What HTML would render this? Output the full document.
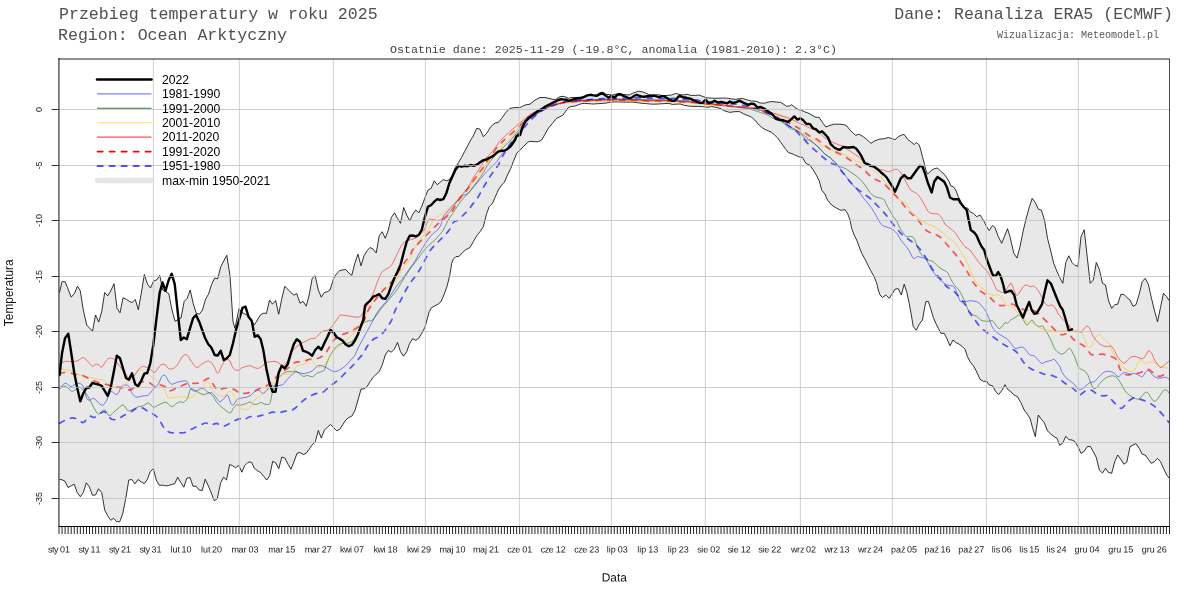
<!DOCTYPE html>
<html><head><meta charset="utf-8"><title>Przebieg temperatury</title>
<style>
html,body{margin:0;padding:0;background:#fff;}
body{width:1200px;height:600px;overflow:hidden;position:relative;font-family:"Liberation Sans",sans-serif;}
svg{position:absolute;left:0;top:0;display:block;will-change:transform;}
.mono{font-family:"Liberation Mono",monospace;}
.sans{font-family:"Liberation Sans",sans-serif;}
</style></head><body>
<svg width="1200" height="600" viewBox="0 0 1200 600">
<rect x="0" y="0" width="1200" height="600" fill="#ffffff"/>
<defs><clipPath id="cp"><rect x="59" y="59" width="1110.5" height="467.5"/></clipPath></defs>

<g class="mono" fill="#222">
<text x="59" y="18.9" font-size="16.6" fill="#505050">Przebieg temperatury w roku 2025</text>
<text x="58" y="39.8" font-size="16.6" fill="#505050">Region: Ocean Arktyczny</text>
<text x="1173" y="18.9" font-size="16.6" text-anchor="end" fill="#505050">Dane: Reanaliza ERA5 (ECMWF)</text>
<text x="1159" y="37.5" font-size="10" text-anchor="end" fill="#555">Wizualizacja: Meteomodel.pl</text>
<text x="613.5" y="53" font-size="11.65" text-anchor="middle" fill="#444">Ostatnie dane: 2025-11-29 (-19.8°C, anomalia (1981-2010): 2.3°C)</text>
</g>
<g clip-path="url(#cp)">
<path d="M59.5 292.5 L62.0 281.7 L65.0 281.7 L67.5 287.5 L71.2 297.2 L74.5 293.3 L77.5 286.2 L80.3 290.8 L83.3 310.0 L86.7 325.0 L92.5 331.3 L95.5 315.0 L98.7 322.0 L101.7 311.7 L104.7 292.5 L107.8 295.8 L110.8 290.8 L114.0 283.7 L117.0 308.3 L120.0 312.8 L123.0 297.8 L126.2 299.2 L129.2 301.3 L132.2 302.5 L135.3 299.5 L138.3 309.7 L141.3 293.3 L144.3 274.5 L147.5 284.2 L150.5 288.0 L153.7 280.8 L156.7 280.0 L159.7 275.3 L162.8 290.0 L165.8 291.7 L168.8 293.7 L172.0 310.0 L175.0 321.2 L178.0 319.7 L181.0 318.0 L184.2 301.3 L187.2 298.3 L190.2 290.0 L193.3 303.8 L196.3 313.3 L199.3 314.2 L202.5 310.0 L205.5 299.2 L208.5 294.2 L211.7 284.2 L214.7 278.0 L217.7 278.8 L220.8 266.7 L223.8 260.8 L226.8 255.3 L230.0 275.8 L233.0 321.7 L235.0 328.3 L236.0 323.3 L239.0 308.7 L242.0 312.5 L245.2 314.2 L248.2 315.8 L251.2 320.0 L254.3 325.0 L257.3 320.0 L260.3 315.0 L263.3 313.3 L266.5 313.3 L269.5 300.0 L272.5 304.2 L275.7 300.5 L278.7 314.2 L281.7 299.2 L284.8 286.3 L287.8 289.2 L290.8 292.5 L293.8 295.0 L296.8 293.7 L300.0 303.3 L303.0 301.3 L306.2 306.2 L309.2 295.0 L312.2 278.3 L315.2 275.8 L318.3 290.0 L321.3 297.2 L324.3 292.5 L327.3 291.7 L330.0 290.0 L333.7 278.3 L336.7 273.7 L339.7 270.5 L342.7 270.0 L345.8 269.5 L348.8 273.0 L351.8 275.3 L354.8 263.3 L358.0 254.2 L361.0 265.8 L364.0 255.8 L367.0 250.8 L370.0 247.5 L373.2 249.2 L376.2 253.0 L379.2 235.8 L382.2 231.7 L385.3 238.3 L388.3 230.0 L391.3 217.5 L394.5 212.8 L397.5 218.3 L400.5 223.3 L403.7 207.5 L406.7 215.0 L409.7 220.8 L412.8 214.2 L415.8 210.0 L418.8 212.8 L422.0 205.8 L425.0 197.5 L428.0 190.0 L431.2 188.3 L434.2 180.8 L437.2 184.7 L440.2 182.2 L443.3 179.5 L446.3 180.8 L449.3 179.7 L452.3 175.0 L455.3 167.5 L458.5 162.5 L461.5 157.5 L464.5 151.7 L467.7 145.8 L470.7 140.0 L473.3 135.8 L476.7 128.3 L480.0 129.2 L483.3 136.7 L486.7 133.3 L490.8 126.7 L495.0 123.0 L498.3 122.5 L501.7 118.3 L505.8 112.5 L510.0 108.3 L515.0 107.5 L520.0 107.5 L525.0 105.0 L530.0 104.2 L535.0 100.0 L540.0 97.5 L545.0 97.5 L550.0 98.7 L555.0 99.7 L560.0 96.7 L563.0 96.3 L566.2 97.2 L568.4 98.3 L571.7 97.5 L576.0 97.5 L580.3 97.2 L583.6 96.7 L586.8 95.6 L590.1 94.8 L593.3 95.4 L596.6 95.0 L599.3 92.9 L602.0 92.1 L604.2 92.9 L606.3 94.5 L609.6 94.5 L612.8 95.0 L616.1 94.0 L619.3 93.6 L622.6 94.3 L625.8 94.7 L629.1 95.0 L632.3 93.4 L635.6 92.1 L638.8 91.2 L642.1 91.8 L645.3 92.9 L648.6 94.5 L651.8 94.8 L655.1 95.0 L658.3 94.8 L661.6 95.4 L664.8 95.6 L668.1 95.4 L671.3 95.0 L673.5 94.3 L675.7 93.4 L677.8 94.0 L680.0 94.5 L683.2 95.0 L687.0 94.3 L690.8 95.4 L695.2 95.4 L699.0 95.0 L702.8 96.5 L707.1 97.8 L711.4 98.1 L715.8 98.3 L721.2 98.1 L726.6 98.1 L730.9 98.8 L735.2 99.4 L739.6 98.6 L742.8 98.6 L747.2 99.9 L751.5 101.0 L755.8 101.2 L760.2 103.0 L764.5 103.2 L768.3 102.1 L772.1 101.5 L776.4 102.1 L780.8 102.4 L784.0 104.5 L786.7 106.4 L789.4 105.9 L791.6 104.8 L794.8 107.3 L798.1 109.5 L801.3 110.2 L804.6 111.8 L807.8 112.9 L810.0 114.0 L815.0 117.0 L819.2 117.5 L822.5 122.5 L825.8 127.0 L830.0 125.3 L834.2 124.2 L839.2 124.2 L843.3 124.5 L846.7 125.8 L850.0 130.0 L853.3 133.3 L855.8 135.3 L859.2 134.2 L863.3 136.7 L867.5 140.0 L870.8 143.3 L875.0 140.8 L879.2 139.2 L884.2 138.7 L888.3 137.5 L892.5 138.7 L895.0 139.7 L898.3 136.7 L901.7 135.0 L904.2 134.5 L907.5 139.2 L910.8 141.7 L914.2 144.5 L916.7 142.5 L919.2 145.0 L920.8 150.0 L922.5 156.7 L924.2 163.3 L925.8 170.0 L927.5 174.2 L930.8 170.8 L934.2 168.7 L937.5 168.0 L940.8 171.3 L944.2 174.2 L946.7 177.5 L949.2 181.7 L950.8 185.8 L953.3 186.7 L955.8 190.0 L958.3 196.7 L960.0 200.0 L963.3 207.5 L967.5 208.0 L970.0 211.7 L973.3 213.3 L976.7 216.7 L980.0 215.0 L983.3 220.0 L986.7 226.7 L989.2 230.5 L992.5 225.5 L995.0 227.5 L998.3 236.7 L1001.7 243.3 L1005.0 235.0 L1007.5 228.7 L1010.0 236.7 L1013.8 253.3 L1017.0 258.0 L1020.0 246.7 L1023.0 231.7 L1026.2 218.3 L1029.2 207.5 L1032.2 198.3 L1035.3 202.5 L1038.3 209.2 L1041.3 210.0 L1044.5 220.0 L1047.5 238.3 L1050.5 250.0 L1053.7 263.3 L1056.7 270.8 L1059.7 277.5 L1062.8 283.3 L1065.8 262.5 L1068.8 255.8 L1072.0 262.5 L1075.0 265.5 L1078.0 266.3 L1081.0 236.7 L1084.2 229.7 L1087.2 256.7 L1090.2 283.3 L1093.3 280.0 L1096.3 262.5 L1099.3 269.2 L1102.5 283.3 L1105.5 285.0 L1108.5 300.8 L1111.7 308.3 L1114.7 304.7 L1117.7 304.2 L1120.8 294.5 L1123.8 294.2 L1126.8 297.5 L1130.0 300.0 L1133.0 306.3 L1136.0 304.7 L1139.2 294.2 L1142.2 281.7 L1145.2 278.3 L1148.3 284.2 L1151.3 297.5 L1154.3 310.0 L1157.5 321.7 L1160.5 307.5 L1163.5 293.3 L1166.7 296.7 L1169.0 300.5 L1169.0 478.0 L1166.7 475.0 L1163.5 468.3 L1160.5 461.7 L1157.5 458.3 L1154.3 461.7 L1151.3 463.3 L1148.3 459.2 L1145.2 455.0 L1142.2 454.2 L1139.2 448.3 L1136.0 443.7 L1133.0 445.0 L1130.0 446.7 L1126.8 462.2 L1123.8 464.2 L1120.8 459.2 L1117.7 455.0 L1114.7 461.7 L1111.7 473.3 L1108.5 472.5 L1105.5 468.3 L1102.5 473.0 L1099.3 470.0 L1096.3 457.5 L1093.3 451.7 L1090.2 446.3 L1087.2 446.7 L1084.2 451.3 L1081.0 453.3 L1078.0 446.7 L1075.0 441.7 L1072.0 440.0 L1068.8 439.7 L1065.8 436.3 L1062.8 443.0 L1059.7 445.3 L1057.0 438.3 L1054.2 436.7 L1050.8 434.2 L1047.5 430.8 L1044.2 422.5 L1041.3 419.2 L1038.3 415.0 L1035.3 436.7 L1032.5 427.5 L1030.0 418.3 L1026.7 413.3 L1024.2 410.0 L1020.8 402.5 L1017.5 396.7 L1014.2 395.0 L1010.8 391.7 L1007.5 389.2 L1005.0 384.7 L1001.7 390.8 L998.7 394.5 L995.8 391.7 L992.5 385.8 L989.2 385.0 L986.7 381.3 L983.3 381.3 L980.0 379.2 L975.8 370.0 L973.3 365.8 L970.0 361.7 L967.5 356.7 L965.0 349.2 L962.5 346.7 L959.2 344.2 L955.8 342.5 L953.0 340.0 L950.0 345.8 L946.7 338.3 L944.2 333.3 L940.8 333.3 L938.3 328.3 L935.8 323.3 L933.3 317.5 L930.8 309.2 L928.3 301.3 L925.8 301.7 L924.2 310.0 L922.5 320.0 L919.2 324.2 L916.3 330.3 L913.3 326.7 L911.3 315.0 L909.2 303.3 L906.7 291.7 L904.2 284.2 L901.3 295.0 L898.3 288.7 L895.0 289.2 L892.5 293.3 L889.2 298.3 L885.8 295.0 L882.5 297.5 L880.0 295.0 L878.3 290.0 L876.7 283.3 L874.2 276.7 L870.8 270.8 L868.3 265.8 L865.0 259.2 L861.7 253.3 L859.2 246.7 L856.7 240.0 L854.2 235.0 L851.7 228.3 L850.0 220.0 L847.5 213.3 L845.0 209.7 L840.8 210.3 L836.7 208.3 L831.7 205.0 L827.5 200.0 L825.0 194.2 L821.7 190.0 L819.2 180.8 L816.7 175.8 L813.3 170.0 L810.0 165.3 L805.8 163.3 L802.5 157.5 L798.3 156.7 L793.3 154.2 L788.3 152.5 L785.0 148.3 L779.1 140.0 L777.5 137.8 L774.2 134.6 L771.0 131.9 L767.8 130.8 L764.5 129.2 L761.2 127.0 L758.0 123.8 L754.8 120.0 L751.5 117.2 L748.2 115.6 L743.9 114.0 L739.6 111.6 L735.2 111.6 L729.8 112.4 L724.4 110.8 L720.1 108.4 L715.8 107.3 L711.4 106.6 L707.1 107.3 L702.8 106.7 L698.4 106.4 L693.0 106.4 L688.7 106.1 L684.3 105.3 L680.0 104.0 L675.7 104.2 L672.4 104.5 L670.2 103.7 L667.0 103.5 L662.7 103.7 L658.3 104.0 L654.0 104.2 L649.7 104.0 L645.3 103.5 L641.0 103.2 L636.7 102.6 L632.3 102.1 L628.0 102.1 L623.7 102.1 L619.3 101.9 L615.0 101.9 L610.7 102.1 L606.3 103.0 L602.0 103.4 L597.7 103.7 L593.3 104.0 L589.0 103.7 L584.7 103.4 L581.4 103.7 L578.2 104.8 L574.9 106.1 L571.7 106.4 L568.4 107.5 L565.7 111.3 L563.0 115.1 L560.0 116.7 L556.7 118.3 L552.5 123.3 L548.3 128.3 L545.0 134.2 L541.7 140.0 L538.3 141.7 L535.0 141.7 L530.0 141.3 L527.5 142.5 L523.3 146.7 L520.0 150.0 L516.7 153.3 L513.3 161.7 L510.8 168.3 L507.5 175.0 L504.2 182.5 L501.7 185.0 L498.3 190.0 L495.0 197.5 L492.5 203.3 L489.2 206.7 L486.7 213.3 L485.0 220.0 L483.3 226.7 L480.0 231.7 L476.7 235.8 L473.3 241.7 L470.0 247.5 L465.8 249.7 L462.5 252.5 L459.2 256.3 L455.8 256.7 L453.3 259.2 L451.7 263.3 L450.0 274.2 L447.2 285.8 L444.2 294.2 L441.0 301.7 L438.0 304.2 L435.0 305.8 L431.7 307.5 L429.2 311.7 L427.0 320.0 L424.8 327.5 L421.8 333.3 L418.7 338.3 L415.7 340.3 L412.7 338.7 L409.7 343.3 L406.7 351.7 L403.5 356.2 L400.5 351.7 L397.5 342.5 L394.3 349.2 L391.3 352.2 L388.3 350.5 L385.3 355.0 L382.2 365.0 L379.2 371.7 L376.2 374.2 L373.0 377.5 L370.0 381.7 L367.0 386.7 L364.0 388.8 L361.0 389.2 L358.0 400.0 L354.8 410.8 L351.8 416.2 L348.8 417.5 L345.8 420.0 L342.7 424.7 L339.7 429.5 L336.7 430.8 L333.7 427.8 L330.5 424.5 L327.5 427.0 L324.5 430.0 L321.3 438.0 L318.3 430.5 L315.3 441.7 L312.3 444.7 L309.2 449.2 L306.2 453.3 L303.2 454.5 L300.0 452.5 L297.0 453.3 L294.0 461.7 L291.0 469.2 L288.0 464.2 L284.8 458.0 L281.8 457.0 L278.8 468.7 L275.8 463.0 L272.7 461.3 L269.7 475.8 L266.7 480.0 L263.7 476.3 L260.5 472.5 L257.5 470.8 L254.2 468.0 L251.7 462.5 L250.0 462.0 L247.8 462.5 L244.8 465.5 L241.8 472.2 L238.7 465.3 L235.7 467.8 L232.7 465.8 L229.7 464.5 L226.5 480.0 L223.5 477.2 L220.5 483.3 L217.3 498.7 L214.3 500.8 L211.3 493.0 L208.3 485.8 L205.2 479.2 L202.2 490.5 L199.2 490.0 L196.0 486.2 L193.0 486.3 L190.0 477.5 L186.8 478.3 L183.8 487.2 L180.8 482.5 L177.7 477.2 L174.7 483.7 L171.7 484.5 L168.5 485.5 L165.5 485.8 L162.5 485.2 L159.3 485.3 L156.3 480.0 L153.3 468.7 L150.2 471.7 L147.2 479.7 L144.2 483.7 L141.0 481.7 L138.0 479.5 L135.0 483.8 L131.8 479.5 L128.8 480.0 L125.8 498.3 L122.8 513.3 L119.8 521.7 L116.7 521.7 L113.7 518.3 L110.7 520.3 L107.7 515.8 L104.7 510.0 L101.7 492.5 L98.5 488.8 L95.5 495.0 L92.5 495.3 L89.3 486.7 L86.3 482.8 L83.3 492.5 L80.3 496.7 L77.2 492.5 L74.2 484.2 L71.2 485.8 L68.0 487.5 L65.0 481.3 L62.0 479.7 L59.5 479.5Z" fill="#e8e8e8" stroke="none"/>
<path d="M59.5 292.5 L62.0 281.7 L65.0 281.7 L67.5 287.5 L71.2 297.2 L74.5 293.3 L77.5 286.2 L80.3 290.8 L83.3 310.0 L86.7 325.0 L92.5 331.3 L95.5 315.0 L98.7 322.0 L101.7 311.7 L104.7 292.5 L107.8 295.8 L110.8 290.8 L114.0 283.7 L117.0 308.3 L120.0 312.8 L123.0 297.8 L126.2 299.2 L129.2 301.3 L132.2 302.5 L135.3 299.5 L138.3 309.7 L141.3 293.3 L144.3 274.5 L147.5 284.2 L150.5 288.0 L153.7 280.8 L156.7 280.0 L159.7 275.3 L162.8 290.0 L165.8 291.7 L168.8 293.7 L172.0 310.0 L175.0 321.2 L178.0 319.7 L181.0 318.0 L184.2 301.3 L187.2 298.3 L190.2 290.0 L193.3 303.8 L196.3 313.3 L199.3 314.2 L202.5 310.0 L205.5 299.2 L208.5 294.2 L211.7 284.2 L214.7 278.0 L217.7 278.8 L220.8 266.7 L223.8 260.8 L226.8 255.3 L230.0 275.8 L233.0 321.7 L235.0 328.3 L236.0 323.3 L239.0 308.7 L242.0 312.5 L245.2 314.2 L248.2 315.8 L251.2 320.0 L254.3 325.0 L257.3 320.0 L260.3 315.0 L263.3 313.3 L266.5 313.3 L269.5 300.0 L272.5 304.2 L275.7 300.5 L278.7 314.2 L281.7 299.2 L284.8 286.3 L287.8 289.2 L290.8 292.5 L293.8 295.0 L296.8 293.7 L300.0 303.3 L303.0 301.3 L306.2 306.2 L309.2 295.0 L312.2 278.3 L315.2 275.8 L318.3 290.0 L321.3 297.2 L324.3 292.5 L327.3 291.7 L330.0 290.0 L333.7 278.3 L336.7 273.7 L339.7 270.5 L342.7 270.0 L345.8 269.5 L348.8 273.0 L351.8 275.3 L354.8 263.3 L358.0 254.2 L361.0 265.8 L364.0 255.8 L367.0 250.8 L370.0 247.5 L373.2 249.2 L376.2 253.0 L379.2 235.8 L382.2 231.7 L385.3 238.3 L388.3 230.0 L391.3 217.5 L394.5 212.8 L397.5 218.3 L400.5 223.3 L403.7 207.5 L406.7 215.0 L409.7 220.8 L412.8 214.2 L415.8 210.0 L418.8 212.8 L422.0 205.8 L425.0 197.5 L428.0 190.0 L431.2 188.3 L434.2 180.8 L437.2 184.7 L440.2 182.2 L443.3 179.5 L446.3 180.8 L449.3 179.7 L452.3 175.0 L455.3 167.5 L458.5 162.5 L461.5 157.5 L464.5 151.7 L467.7 145.8 L470.7 140.0 L473.3 135.8 L476.7 128.3 L480.0 129.2 L483.3 136.7 L486.7 133.3 L490.8 126.7 L495.0 123.0 L498.3 122.5 L501.7 118.3 L505.8 112.5 L510.0 108.3 L515.0 107.5 L520.0 107.5 L525.0 105.0 L530.0 104.2 L535.0 100.0 L540.0 97.5 L545.0 97.5 L550.0 98.7 L555.0 99.7 L560.0 96.7 L563.0 96.3 L566.2 97.2 L568.4 98.3 L571.7 97.5 L576.0 97.5 L580.3 97.2 L583.6 96.7 L586.8 95.6 L590.1 94.8 L593.3 95.4 L596.6 95.0 L599.3 92.9 L602.0 92.1 L604.2 92.9 L606.3 94.5 L609.6 94.5 L612.8 95.0 L616.1 94.0 L619.3 93.6 L622.6 94.3 L625.8 94.7 L629.1 95.0 L632.3 93.4 L635.6 92.1 L638.8 91.2 L642.1 91.8 L645.3 92.9 L648.6 94.5 L651.8 94.8 L655.1 95.0 L658.3 94.8 L661.6 95.4 L664.8 95.6 L668.1 95.4 L671.3 95.0 L673.5 94.3 L675.7 93.4 L677.8 94.0 L680.0 94.5 L683.2 95.0 L687.0 94.3 L690.8 95.4 L695.2 95.4 L699.0 95.0 L702.8 96.5 L707.1 97.8 L711.4 98.1 L715.8 98.3 L721.2 98.1 L726.6 98.1 L730.9 98.8 L735.2 99.4 L739.6 98.6 L742.8 98.6 L747.2 99.9 L751.5 101.0 L755.8 101.2 L760.2 103.0 L764.5 103.2 L768.3 102.1 L772.1 101.5 L776.4 102.1 L780.8 102.4 L784.0 104.5 L786.7 106.4 L789.4 105.9 L791.6 104.8 L794.8 107.3 L798.1 109.5 L801.3 110.2 L804.6 111.8 L807.8 112.9 L810.0 114.0 L815.0 117.0 L819.2 117.5 L822.5 122.5 L825.8 127.0 L830.0 125.3 L834.2 124.2 L839.2 124.2 L843.3 124.5 L846.7 125.8 L850.0 130.0 L853.3 133.3 L855.8 135.3 L859.2 134.2 L863.3 136.7 L867.5 140.0 L870.8 143.3 L875.0 140.8 L879.2 139.2 L884.2 138.7 L888.3 137.5 L892.5 138.7 L895.0 139.7 L898.3 136.7 L901.7 135.0 L904.2 134.5 L907.5 139.2 L910.8 141.7 L914.2 144.5 L916.7 142.5 L919.2 145.0 L920.8 150.0 L922.5 156.7 L924.2 163.3 L925.8 170.0 L927.5 174.2 L930.8 170.8 L934.2 168.7 L937.5 168.0 L940.8 171.3 L944.2 174.2 L946.7 177.5 L949.2 181.7 L950.8 185.8 L953.3 186.7 L955.8 190.0 L958.3 196.7 L960.0 200.0 L963.3 207.5 L967.5 208.0 L970.0 211.7 L973.3 213.3 L976.7 216.7 L980.0 215.0 L983.3 220.0 L986.7 226.7 L989.2 230.5 L992.5 225.5 L995.0 227.5 L998.3 236.7 L1001.7 243.3 L1005.0 235.0 L1007.5 228.7 L1010.0 236.7 L1013.8 253.3 L1017.0 258.0 L1020.0 246.7 L1023.0 231.7 L1026.2 218.3 L1029.2 207.5 L1032.2 198.3 L1035.3 202.5 L1038.3 209.2 L1041.3 210.0 L1044.5 220.0 L1047.5 238.3 L1050.5 250.0 L1053.7 263.3 L1056.7 270.8 L1059.7 277.5 L1062.8 283.3 L1065.8 262.5 L1068.8 255.8 L1072.0 262.5 L1075.0 265.5 L1078.0 266.3 L1081.0 236.7 L1084.2 229.7 L1087.2 256.7 L1090.2 283.3 L1093.3 280.0 L1096.3 262.5 L1099.3 269.2 L1102.5 283.3 L1105.5 285.0 L1108.5 300.8 L1111.7 308.3 L1114.7 304.7 L1117.7 304.2 L1120.8 294.5 L1123.8 294.2 L1126.8 297.5 L1130.0 300.0 L1133.0 306.3 L1136.0 304.7 L1139.2 294.2 L1142.2 281.7 L1145.2 278.3 L1148.3 284.2 L1151.3 297.5 L1154.3 310.0 L1157.5 321.7 L1160.5 307.5 L1163.5 293.3 L1166.7 296.7 L1169.0 300.5" fill="none" stroke="#000" stroke-width="0.8" stroke-linejoin="round"/>
<path d="M59.5 479.5 L62.0 479.7 L65.0 481.3 L68.0 487.5 L71.2 485.8 L74.2 484.2 L77.2 492.5 L80.3 496.7 L83.3 492.5 L86.3 482.8 L89.3 486.7 L92.5 495.3 L95.5 495.0 L98.5 488.8 L101.7 492.5 L104.7 510.0 L107.7 515.8 L110.7 520.3 L113.7 518.3 L116.7 521.7 L119.8 521.7 L122.8 513.3 L125.8 498.3 L128.8 480.0 L131.8 479.5 L135.0 483.8 L138.0 479.5 L141.0 481.7 L144.2 483.7 L147.2 479.7 L150.2 471.7 L153.3 468.7 L156.3 480.0 L159.3 485.3 L162.5 485.2 L165.5 485.8 L168.5 485.5 L171.7 484.5 L174.7 483.7 L177.7 477.2 L180.8 482.5 L183.8 487.2 L186.8 478.3 L190.0 477.5 L193.0 486.3 L196.0 486.2 L199.2 490.0 L202.2 490.5 L205.2 479.2 L208.3 485.8 L211.3 493.0 L214.3 500.8 L217.3 498.7 L220.5 483.3 L223.5 477.2 L226.5 480.0 L229.7 464.5 L232.7 465.8 L235.7 467.8 L238.7 465.3 L241.8 472.2 L244.8 465.5 L247.8 462.5 L250.0 462.0 L251.7 462.5 L254.2 468.0 L257.5 470.8 L260.5 472.5 L263.7 476.3 L266.7 480.0 L269.7 475.8 L272.7 461.3 L275.8 463.0 L278.8 468.7 L281.8 457.0 L284.8 458.0 L288.0 464.2 L291.0 469.2 L294.0 461.7 L297.0 453.3 L300.0 452.5 L303.2 454.5 L306.2 453.3 L309.2 449.2 L312.3 444.7 L315.3 441.7 L318.3 430.5 L321.3 438.0 L324.5 430.0 L327.5 427.0 L330.5 424.5 L333.7 427.8 L336.7 430.8 L339.7 429.5 L342.7 424.7 L345.8 420.0 L348.8 417.5 L351.8 416.2 L354.8 410.8 L358.0 400.0 L361.0 389.2 L364.0 388.8 L367.0 386.7 L370.0 381.7 L373.0 377.5 L376.2 374.2 L379.2 371.7 L382.2 365.0 L385.3 355.0 L388.3 350.5 L391.3 352.2 L394.3 349.2 L397.5 342.5 L400.5 351.7 L403.5 356.2 L406.7 351.7 L409.7 343.3 L412.7 338.7 L415.7 340.3 L418.7 338.3 L421.8 333.3 L424.8 327.5 L427.0 320.0 L429.2 311.7 L431.7 307.5 L435.0 305.8 L438.0 304.2 L441.0 301.7 L444.2 294.2 L447.2 285.8 L450.0 274.2 L451.7 263.3 L453.3 259.2 L455.8 256.7 L459.2 256.3 L462.5 252.5 L465.8 249.7 L470.0 247.5 L473.3 241.7 L476.7 235.8 L480.0 231.7 L483.3 226.7 L485.0 220.0 L486.7 213.3 L489.2 206.7 L492.5 203.3 L495.0 197.5 L498.3 190.0 L501.7 185.0 L504.2 182.5 L507.5 175.0 L510.8 168.3 L513.3 161.7 L516.7 153.3 L520.0 150.0 L523.3 146.7 L527.5 142.5 L530.0 141.3 L535.0 141.7 L538.3 141.7 L541.7 140.0 L545.0 134.2 L548.3 128.3 L552.5 123.3 L556.7 118.3 L560.0 116.7 L563.0 115.1 L565.7 111.3 L568.4 107.5 L571.7 106.4 L574.9 106.1 L578.2 104.8 L581.4 103.7 L584.7 103.4 L589.0 103.7 L593.3 104.0 L597.7 103.7 L602.0 103.4 L606.3 103.0 L610.7 102.1 L615.0 101.9 L619.3 101.9 L623.7 102.1 L628.0 102.1 L632.3 102.1 L636.7 102.6 L641.0 103.2 L645.3 103.5 L649.7 104.0 L654.0 104.2 L658.3 104.0 L662.7 103.7 L667.0 103.5 L670.2 103.7 L672.4 104.5 L675.7 104.2 L680.0 104.0 L684.3 105.3 L688.7 106.1 L693.0 106.4 L698.4 106.4 L702.8 106.7 L707.1 107.3 L711.4 106.6 L715.8 107.3 L720.1 108.4 L724.4 110.8 L729.8 112.4 L735.2 111.6 L739.6 111.6 L743.9 114.0 L748.2 115.6 L751.5 117.2 L754.8 120.0 L758.0 123.8 L761.2 127.0 L764.5 129.2 L767.8 130.8 L771.0 131.9 L774.2 134.6 L777.5 137.8 L779.1 140.0 L785.0 148.3 L788.3 152.5 L793.3 154.2 L798.3 156.7 L802.5 157.5 L805.8 163.3 L810.0 165.3 L813.3 170.0 L816.7 175.8 L819.2 180.8 L821.7 190.0 L825.0 194.2 L827.5 200.0 L831.7 205.0 L836.7 208.3 L840.8 210.3 L845.0 209.7 L847.5 213.3 L850.0 220.0 L851.7 228.3 L854.2 235.0 L856.7 240.0 L859.2 246.7 L861.7 253.3 L865.0 259.2 L868.3 265.8 L870.8 270.8 L874.2 276.7 L876.7 283.3 L878.3 290.0 L880.0 295.0 L882.5 297.5 L885.8 295.0 L889.2 298.3 L892.5 293.3 L895.0 289.2 L898.3 288.7 L901.3 295.0 L904.2 284.2 L906.7 291.7 L909.2 303.3 L911.3 315.0 L913.3 326.7 L916.3 330.3 L919.2 324.2 L922.5 320.0 L924.2 310.0 L925.8 301.7 L928.3 301.3 L930.8 309.2 L933.3 317.5 L935.8 323.3 L938.3 328.3 L940.8 333.3 L944.2 333.3 L946.7 338.3 L950.0 345.8 L953.0 340.0 L955.8 342.5 L959.2 344.2 L962.5 346.7 L965.0 349.2 L967.5 356.7 L970.0 361.7 L973.3 365.8 L975.8 370.0 L980.0 379.2 L983.3 381.3 L986.7 381.3 L989.2 385.0 L992.5 385.8 L995.8 391.7 L998.7 394.5 L1001.7 390.8 L1005.0 384.7 L1007.5 389.2 L1010.8 391.7 L1014.2 395.0 L1017.5 396.7 L1020.8 402.5 L1024.2 410.0 L1026.7 413.3 L1030.0 418.3 L1032.5 427.5 L1035.3 436.7 L1038.3 415.0 L1041.3 419.2 L1044.2 422.5 L1047.5 430.8 L1050.8 434.2 L1054.2 436.7 L1057.0 438.3 L1059.7 445.3 L1062.8 443.0 L1065.8 436.3 L1068.8 439.7 L1072.0 440.0 L1075.0 441.7 L1078.0 446.7 L1081.0 453.3 L1084.2 451.3 L1087.2 446.7 L1090.2 446.3 L1093.3 451.7 L1096.3 457.5 L1099.3 470.0 L1102.5 473.0 L1105.5 468.3 L1108.5 472.5 L1111.7 473.3 L1114.7 461.7 L1117.7 455.0 L1120.8 459.2 L1123.8 464.2 L1126.8 462.2 L1130.0 446.7 L1133.0 445.0 L1136.0 443.7 L1139.2 448.3 L1142.2 454.2 L1145.2 455.0 L1148.3 459.2 L1151.3 463.3 L1154.3 461.7 L1157.5 458.3 L1160.5 461.7 L1163.5 468.3 L1166.7 475.0 L1169.0 478.0" fill="none" stroke="#000" stroke-width="0.8" stroke-linejoin="round"/>
<path d="M59.5 388.3C60.0 387.8 61.5 385.8 62.5 385.0C63.5 384.2 64.9 383.3 65.8 383.3C66.8 383.3 67.4 384.5 68.3 385.0C69.3 385.5 70.6 386.8 71.7 386.7C72.7 386.5 73.8 384.7 75.0 384.2C76.2 383.6 77.8 382.9 79.2 383.3C80.5 383.7 82.1 384.3 83.3 386.7C84.5 389.1 85.6 396.2 86.7 398.3C87.7 400.5 88.9 400.0 90.0 400.0C91.1 400.0 92.3 398.2 93.3 398.3C94.4 398.5 95.6 399.9 96.7 400.8C97.7 401.8 98.9 403.5 100.0 404.2C101.1 404.8 102.3 405.7 103.3 405.0C104.4 404.3 105.5 402.1 106.7 400.0C107.9 397.9 109.6 392.7 110.8 391.7C112.0 390.6 113.1 392.9 114.2 393.3C115.2 393.7 116.3 395.2 117.5 394.2C118.7 393.1 120.3 388.1 121.7 386.7C123.0 385.2 124.6 385.0 125.8 385.0C127.0 385.0 128.2 385.5 129.2 386.7C130.1 387.9 130.7 390.9 131.7 392.5C132.6 394.1 133.9 395.9 135.0 396.7C136.1 397.4 137.0 397.1 138.3 397.0C139.7 396.9 141.7 396.1 143.3 395.8C144.9 395.5 146.7 396.1 148.3 395.0C149.9 393.9 151.7 390.9 153.3 389.2C154.9 387.4 157.0 386.2 158.3 384.2C159.7 382.2 160.6 378.1 161.7 376.7C162.7 375.3 163.9 374.7 165.0 375.3C166.1 376.0 167.3 379.4 168.3 380.8C169.4 382.2 170.3 383.9 171.7 384.2C173.0 384.4 175.1 383.0 176.7 382.5C178.3 382.0 180.1 381.5 181.7 381.3C183.3 381.1 185.3 380.3 186.7 381.3C188.0 382.3 188.9 386.0 190.0 387.5C191.1 389.0 192.3 390.3 193.3 390.8C194.4 391.4 195.5 391.2 196.7 390.8C197.9 390.4 199.6 388.6 200.8 388.3C202.0 388.1 203.0 388.5 204.2 389.2C205.4 389.8 207.0 391.8 208.3 392.5C209.7 393.2 211.2 392.4 212.5 393.3C213.8 394.3 215.5 396.9 216.7 398.3C217.9 399.7 218.8 402.0 220.0 402.0C221.2 402.0 223.0 399.4 224.2 398.3C225.4 397.2 226.4 394.2 227.5 395.0C228.6 395.8 229.9 401.7 230.8 403.3C231.8 404.9 232.4 405.5 233.3 405.0C234.3 404.5 235.6 401.1 236.7 400.0C237.7 398.9 238.7 398.7 240.0 398.3C241.3 397.9 243.4 397.9 245.0 397.5C246.6 397.1 248.5 396.7 250.0 395.8C251.5 394.9 252.8 392.9 254.2 392.0C255.5 391.1 257.0 389.8 258.3 390.0C259.7 390.2 261.3 393.1 262.5 393.3C263.7 393.6 264.6 392.7 265.8 391.7C267.0 390.6 268.5 387.6 270.0 386.7C271.5 385.7 273.5 386.0 275.0 385.8C276.5 385.6 277.8 385.8 279.2 385.5C280.5 385.2 282.0 385.2 283.3 384.2C284.7 383.2 286.2 380.6 287.5 379.2C288.8 377.7 290.3 376.1 291.7 375.0C293.0 373.9 294.5 372.3 295.8 372.0C297.2 371.7 298.7 372.7 300.0 373.0C301.3 373.3 302.8 373.8 304.2 373.7C305.5 373.6 307.0 373.0 308.3 372.5C309.7 372.0 311.2 371.8 312.5 370.8C313.8 369.9 315.5 367.6 316.7 366.7C317.9 365.8 318.8 365.3 320.0 365.3C321.2 365.3 323.0 366.2 324.2 366.7C325.4 367.2 326.3 367.7 327.5 368.3C328.7 369.0 330.3 370.3 331.7 370.8C333.0 371.4 334.5 371.9 335.8 371.7C337.2 371.5 338.5 370.5 340.0 369.7C341.5 368.8 343.4 367.7 345.0 366.3C346.6 364.9 348.4 362.6 350.0 360.8C351.6 359.0 353.7 357.1 355.0 355.0C356.3 352.9 357.0 350.2 358.3 347.5C359.7 344.8 361.7 341.3 363.3 338.3C364.9 335.4 366.7 332.1 368.3 329.2C369.9 326.2 372.0 322.5 373.3 320.0C374.7 317.5 375.3 315.5 376.7 313.3C378.0 311.2 380.1 308.7 381.7 306.7C383.3 304.7 385.2 302.7 386.7 300.8C388.1 299.0 389.5 297.0 390.8 295.0C392.2 293.0 393.5 290.5 395.0 288.3C396.5 286.2 398.5 283.5 400.0 281.7C401.5 279.8 402.7 278.7 404.2 276.7C405.6 274.7 407.6 271.4 409.2 269.2C410.8 266.9 412.7 264.8 414.2 262.5C415.6 260.2 416.9 257.5 418.3 255.0C419.8 252.5 421.7 249.2 423.3 246.7C424.9 244.1 426.7 241.3 428.3 239.2C429.9 237.0 431.9 234.8 433.3 233.3C434.8 231.9 436.3 231.3 437.5 230.0C438.7 228.7 439.9 227.1 440.8 225.0C441.8 222.9 442.4 218.7 443.3 216.7C444.3 214.7 445.3 214.1 446.7 212.5C448.0 210.9 450.1 208.4 451.7 206.7C453.3 204.9 455.1 203.4 456.7 201.7C458.3 199.9 460.1 197.0 461.7 195.8C463.3 194.6 465.1 195.2 466.7 194.2C468.3 193.1 470.1 190.9 471.7 189.2C473.3 187.4 475.1 185.2 476.7 183.3C478.3 181.5 480.1 179.4 481.7 177.5C483.3 175.6 485.1 173.4 486.7 171.7C488.3 169.9 490.1 168.3 491.7 166.7C493.3 165.1 495.1 163.7 496.7 161.7C498.3 159.7 500.1 156.3 501.7 154.2C503.3 152.0 505.1 150.2 506.7 148.3C508.3 146.5 510.6 143.8 511.7 142.5C512.7 141.2 512.1 141.7 513.3 140.0C514.5 138.3 517.6 133.9 519.2 131.7C520.8 129.4 521.9 127.7 523.3 125.8C524.8 124.0 526.7 121.5 528.3 120.0C529.9 118.5 531.7 117.8 533.3 116.7C534.9 115.5 536.7 114.1 538.3 113.0C539.9 111.9 541.7 110.9 543.3 110.0C544.9 109.1 546.7 108.2 548.3 107.5C549.9 106.8 551.5 106.2 553.3 105.5C555.2 104.8 557.9 104.0 560.0 103.3C562.1 102.6 564.4 101.6 566.2 101.2C568.1 100.8 569.9 100.8 571.7 100.7C573.4 100.5 575.3 100.4 577.1 100.3C578.8 100.3 580.8 100.2 582.5 100.1C584.2 100.0 586.2 99.9 587.9 99.8C589.7 99.7 591.6 99.7 593.3 99.6C595.1 99.5 597.0 99.4 598.8 99.4C600.5 99.3 602.4 99.3 604.2 99.3C605.9 99.2 607.8 99.1 609.6 99.0C611.3 99.0 613.3 99.0 615.0 99.0C616.7 99.0 618.7 99.0 620.4 99.0C622.2 99.1 624.1 99.2 625.8 99.3C627.6 99.3 629.5 99.3 631.2 99.3C633.0 99.3 634.9 99.3 636.7 99.4C638.4 99.4 640.3 99.5 642.1 99.6C643.8 99.7 645.8 99.8 647.5 99.8C649.2 99.9 651.2 99.9 652.9 99.9C654.7 99.9 656.6 99.9 658.3 99.9C660.1 99.9 662.0 99.9 663.8 99.9C665.5 100.0 667.4 100.1 669.2 100.1C670.9 100.2 672.8 100.3 674.6 100.3C676.3 100.4 677.4 100.5 680.0 100.7C682.6 100.8 687.4 100.9 690.8 101.2C694.3 101.5 698.2 102.2 701.7 102.6C705.1 103.0 709.0 103.3 712.5 103.7C716.0 104.1 719.9 104.7 723.3 105.1C726.8 105.6 730.7 106.0 734.2 106.4C737.6 106.8 741.5 107.1 745.0 107.5C748.5 107.9 753.1 108.6 755.8 109.1C758.6 109.6 760.2 110.1 762.3 110.8C764.4 111.4 766.8 112.4 768.8 113.5C770.9 114.5 773.2 116.0 775.3 117.2C777.4 118.5 780.1 119.9 781.8 121.0C783.6 122.2 784.8 123.3 786.2 124.3C787.6 125.2 789.1 126.2 790.5 127.0C791.9 127.8 793.4 128.3 794.8 129.2C796.2 130.0 797.8 131.2 799.2 132.4C800.6 133.6 802.5 135.5 803.5 136.8C804.5 138.0 804.6 139.5 805.7 140.0C806.7 140.5 808.5 139.3 810.0 140.0C811.5 140.7 813.4 142.8 815.0 144.2C816.6 145.5 818.4 146.7 820.0 148.3C821.6 149.9 823.4 152.7 825.0 154.2C826.6 155.6 828.4 156.2 830.0 157.5C831.6 158.8 833.4 160.8 835.0 162.5C836.6 164.2 838.4 166.3 840.0 168.3C841.6 170.3 843.4 172.9 845.0 175.0C846.6 177.1 848.4 179.7 850.0 181.7C851.6 183.7 853.4 185.6 855.0 187.5C856.6 189.4 858.4 191.3 860.0 193.3C861.6 195.3 863.9 198.7 865.0 200.0C866.1 201.3 865.6 200.3 866.7 201.7C867.7 203.0 870.2 206.2 871.7 208.3C873.1 210.5 874.5 212.7 875.8 215.0C877.2 217.3 878.8 220.8 880.0 222.5C881.2 224.2 882.0 225.0 883.3 225.8C884.7 226.6 886.7 226.8 888.3 227.5C889.9 228.2 891.9 228.9 893.3 230.0C894.8 231.1 896.3 232.6 897.5 234.2C898.7 235.8 899.6 238.3 900.8 240.0C902.0 241.7 903.7 243.3 905.0 245.0C906.3 246.7 907.8 248.7 909.2 250.8C910.5 253.0 912.0 257.4 913.3 258.3C914.7 259.3 916.2 256.8 917.5 256.7C918.8 256.5 920.3 257.1 921.7 257.5C923.0 257.9 924.5 257.7 925.8 259.2C927.2 260.6 928.7 264.4 930.0 266.7C931.3 268.9 932.8 271.5 934.2 273.3C935.5 275.2 937.0 277.0 938.3 278.3C939.7 279.7 941.2 280.6 942.5 281.7C943.8 282.7 945.2 284.3 946.7 285.0C948.1 285.7 950.3 285.3 951.7 285.8C953.0 286.4 953.7 285.9 955.0 288.3C956.3 290.7 958.7 298.7 960.0 300.8C961.3 303.0 962.3 301.6 963.3 301.7C964.4 301.8 965.5 301.5 966.7 301.3C967.9 301.2 969.5 300.8 970.8 300.8C972.2 300.8 973.8 301.1 975.0 301.3C976.2 301.6 977.3 301.8 978.3 302.5C979.4 303.2 980.6 304.6 981.7 305.8C982.7 307.0 983.9 308.3 985.0 310.0C986.1 311.7 987.3 314.1 988.3 316.7C989.4 319.2 990.6 323.6 991.7 325.8C992.7 328.1 993.8 329.5 995.0 330.8C996.2 332.2 997.8 333.2 999.2 334.2C1000.5 335.1 1002.0 335.9 1003.3 336.7C1004.7 337.5 1006.3 338.1 1007.5 339.2C1008.7 340.2 1009.6 341.9 1010.8 343.3C1012.0 344.8 1013.7 347.7 1015.0 348.3C1016.3 349.0 1018.0 347.7 1019.2 347.5C1020.4 347.3 1021.4 346.8 1022.5 347.2C1023.6 347.6 1024.6 348.7 1025.8 350.0C1027.0 351.3 1028.7 354.1 1030.0 355.0C1031.3 355.9 1033.0 355.2 1034.2 355.8C1035.4 356.5 1036.3 358.0 1037.5 359.2C1038.7 360.4 1040.3 362.9 1041.7 363.3C1043.0 363.7 1044.5 362.1 1045.8 361.7C1047.2 361.3 1048.7 361.2 1050.0 360.8C1051.3 360.5 1053.0 359.1 1054.2 359.5C1055.4 359.9 1056.6 362.2 1057.5 363.3C1058.4 364.5 1059.3 365.3 1060.0 366.7C1060.7 368.0 1060.7 369.9 1061.7 371.7C1062.6 373.4 1064.5 376.0 1065.8 377.5C1067.2 379.0 1068.7 379.8 1070.0 380.8C1071.3 381.9 1072.8 382.8 1074.2 384.2C1075.5 385.5 1077.1 388.4 1078.3 389.2C1079.5 390.0 1080.5 389.7 1081.7 389.2C1082.9 388.6 1084.5 386.9 1085.8 385.8C1087.2 384.8 1088.7 383.2 1090.0 382.5C1091.3 381.8 1092.8 382.5 1094.2 381.7C1095.5 380.9 1097.0 378.8 1098.3 377.5C1099.7 376.2 1101.2 374.3 1102.5 373.3C1103.8 372.3 1105.3 371.6 1106.7 371.3C1108.0 371.1 1109.6 371.4 1110.8 371.7C1112.0 372.0 1113.0 372.5 1114.2 373.3C1115.4 374.1 1117.0 376.7 1118.3 376.7C1119.7 376.7 1121.3 374.0 1122.5 373.3C1123.7 372.7 1124.6 372.4 1125.8 372.5C1127.0 372.6 1128.7 374.0 1130.0 374.2C1131.3 374.3 1132.8 373.2 1134.2 373.3C1135.5 373.5 1137.0 374.5 1138.3 375.0C1139.7 375.5 1141.3 377.2 1142.5 376.7C1143.7 376.1 1144.8 372.6 1145.8 371.7C1146.9 370.7 1148.0 370.2 1149.2 370.8C1150.4 371.5 1152.0 374.7 1153.3 375.8C1154.7 377.0 1156.2 377.7 1157.5 378.0C1158.8 378.3 1160.3 378.1 1161.7 378.0C1163.0 377.9 1164.7 377.0 1165.8 377.2C1167.0 377.4 1168.5 378.9 1169.0 379.2" fill="none" stroke="#0000ff" stroke-width="0.9" stroke-linejoin="round" stroke-linecap="round" stroke-opacity="0.55"/>
<path d="M59.5 389.2C60.0 388.8 61.6 387.2 62.5 386.7C63.4 386.2 64.1 385.9 65.0 386.2C65.9 386.4 67.3 387.5 68.3 388.3C69.4 389.2 70.6 391.1 71.7 391.3C72.7 391.6 73.9 390.6 75.0 390.0C76.1 389.4 77.3 387.8 78.3 387.5C79.4 387.2 80.5 387.4 81.7 388.3C82.9 389.3 84.5 391.5 85.8 393.3C87.2 395.2 88.7 397.6 90.0 400.0C91.3 402.4 92.8 406.1 94.2 408.3C95.5 410.6 97.1 413.7 98.3 414.2C99.5 414.7 100.6 412.0 101.7 411.3C102.7 410.7 103.8 409.3 105.0 410.0C106.2 410.7 107.8 415.4 109.2 415.8C110.5 416.2 111.9 413.7 113.3 412.5C114.8 411.3 116.7 409.5 118.3 408.3C119.9 407.1 121.7 404.6 123.3 405.0C124.9 405.4 126.7 410.2 128.3 410.8C129.9 411.5 131.7 409.8 133.3 409.2C134.9 408.5 136.7 407.2 138.3 406.7C139.9 406.1 141.7 406.4 143.3 405.8C144.9 405.2 146.7 402.8 148.3 403.0C149.9 403.2 151.7 406.9 153.3 407.2C154.9 407.5 156.7 405.7 158.3 405.0C159.9 404.3 162.0 403.2 163.3 402.8C164.7 402.4 165.3 401.9 166.7 402.5C168.0 403.1 170.1 406.5 171.7 406.7C173.3 406.8 175.3 404.1 176.7 403.3C178.0 402.5 178.9 401.8 180.0 401.7C181.1 401.5 182.1 403.0 183.3 402.5C184.5 402.0 186.4 400.3 187.5 398.3C188.6 396.3 189.2 391.5 190.0 390.0C190.8 388.5 191.6 389.0 192.5 389.2C193.4 389.3 194.6 390.2 195.8 390.8C197.0 391.5 198.7 392.7 200.0 393.3C201.3 393.9 202.7 394.8 204.2 394.7C205.6 394.6 207.7 392.5 209.2 392.8C210.6 393.1 212.0 395.0 213.3 396.7C214.7 398.4 215.9 401.5 217.5 403.3C219.1 405.2 221.3 406.8 223.3 408.3C225.3 409.9 228.4 413.0 230.0 413.0C231.6 413.0 232.3 409.6 233.3 408.3C234.4 407.1 235.3 405.5 236.7 405.0C238.0 404.5 240.1 405.3 241.7 405.0C243.3 404.7 245.3 403.8 246.7 403.3C248.0 402.8 248.9 401.9 250.0 402.0C251.1 402.1 252.1 403.8 253.3 404.2C254.5 404.5 256.3 404.4 257.5 404.2C258.7 403.9 259.6 402.5 260.8 402.5C262.0 402.5 263.7 403.9 265.0 404.2C266.3 404.4 268.2 404.8 269.2 404.2C270.1 403.5 270.3 402.0 270.8 400.0C271.4 398.0 271.8 394.1 272.5 391.7C273.2 389.3 273.9 387.3 275.0 385.0C276.1 382.7 277.8 379.4 279.2 377.5C280.5 375.6 282.0 374.3 283.3 373.3C284.7 372.4 286.2 371.9 287.5 371.7C288.8 371.4 290.3 371.7 291.7 371.7C293.0 371.6 294.6 371.1 295.8 371.3C297.0 371.6 298.0 372.5 299.2 373.3C300.4 374.1 302.0 376.0 303.3 376.3C304.7 376.7 306.0 375.4 307.5 375.5C309.0 375.6 311.0 377.0 312.5 376.7C314.0 376.3 315.5 374.1 316.7 373.3C317.9 372.6 318.8 372.7 320.0 372.2C321.2 371.6 323.1 371.4 324.2 370.0C325.2 368.6 325.7 365.6 326.7 363.3C327.6 361.1 328.8 358.1 330.0 355.8C331.2 353.6 332.8 350.9 334.2 349.2C335.5 347.4 337.0 345.9 338.3 345.0C339.7 344.1 341.2 343.6 342.5 343.3C343.8 343.1 345.2 343.6 346.7 343.3C348.1 343.1 350.2 342.7 351.7 341.7C353.1 340.6 354.5 338.7 355.8 336.7C357.2 334.7 358.8 331.3 360.0 329.2C361.2 327.0 362.3 324.6 363.3 323.3C364.4 322.1 365.3 321.8 366.7 321.3C368.0 320.9 370.6 320.8 371.7 320.5C372.7 320.2 372.5 320.1 373.3 319.2C374.1 318.3 375.5 316.6 376.7 315.0C377.9 313.4 379.5 310.9 380.8 309.2C382.2 307.4 383.5 305.9 385.0 304.2C386.5 302.4 388.4 300.2 390.0 298.3C391.6 296.5 393.4 294.6 395.0 292.5C396.6 290.4 398.4 287.5 400.0 285.0C401.6 282.5 403.4 279.2 405.0 276.7C406.6 274.1 408.4 271.4 410.0 269.2C411.6 266.9 413.4 264.6 415.0 262.5C416.6 260.4 418.4 258.0 420.0 255.8C421.6 253.7 423.4 251.0 425.0 249.2C426.6 247.3 428.4 245.6 430.0 244.2C431.6 242.7 433.4 241.6 435.0 240.0C436.6 238.4 438.7 235.8 440.0 234.2C441.3 232.6 442.0 232.3 443.3 230.0C444.7 227.7 446.7 222.8 448.3 220.0C449.9 217.2 451.7 214.9 453.3 212.5C454.9 210.1 456.7 207.3 458.3 205.0C459.9 202.7 461.7 200.2 463.3 198.3C464.9 196.5 466.7 195.2 468.3 193.3C469.9 191.5 471.7 188.8 473.3 186.7C474.9 184.5 476.7 182.3 478.3 180.0C479.9 177.7 481.7 175.0 483.3 172.5C484.9 170.0 486.7 166.6 488.3 164.2C489.9 161.8 491.7 159.5 493.3 157.5C494.9 155.5 496.7 153.3 498.3 151.7C499.9 150.1 501.7 149.0 503.3 147.5C504.9 146.0 507.1 143.7 508.3 142.5C509.5 141.3 509.2 141.9 510.8 140.0C512.4 138.1 516.3 133.4 518.3 130.8C520.3 128.3 521.7 126.0 523.3 124.2C524.9 122.3 526.7 120.5 528.3 119.2C529.9 117.8 531.7 116.9 533.3 115.8C534.9 114.8 536.7 113.5 538.3 112.5C539.9 111.5 541.7 110.4 543.3 109.5C544.9 108.6 546.7 107.7 548.3 107.0C549.9 106.3 551.5 105.9 553.3 105.3C555.2 104.7 557.9 103.9 560.0 103.3C562.1 102.7 564.4 102.0 566.2 101.7C568.1 101.3 569.9 101.2 571.7 101.1C573.4 101.0 575.3 100.9 577.1 100.8C578.8 100.7 580.8 100.7 582.5 100.6C584.2 100.5 586.2 100.3 587.9 100.2C589.7 100.2 591.6 100.1 593.3 100.0C595.1 100.0 597.0 99.9 598.8 99.8C600.5 99.8 602.4 99.8 604.2 99.7C605.9 99.6 607.8 99.5 609.6 99.5C611.3 99.4 613.3 99.5 615.0 99.5C616.7 99.5 618.7 99.4 620.4 99.5C622.2 99.5 624.1 99.7 625.8 99.7C627.6 99.7 629.5 99.7 631.2 99.7C633.0 99.7 634.9 99.8 636.7 99.8C638.4 99.9 640.3 100.0 642.1 100.0C643.8 100.1 645.8 100.2 647.5 100.2C649.2 100.3 651.2 100.3 652.9 100.3C654.7 100.4 656.6 100.3 658.3 100.3C660.1 100.3 662.0 100.3 663.8 100.3C665.5 100.4 667.4 100.5 669.2 100.6C670.9 100.6 672.8 100.7 674.6 100.8C676.3 100.9 677.4 100.9 680.0 101.1C682.6 101.3 687.4 101.5 690.8 101.9C694.3 102.2 698.2 102.8 701.7 103.2C705.1 103.6 709.0 103.9 712.5 104.2C716.0 104.6 719.9 105.1 723.3 105.5C726.8 106.0 730.7 106.6 734.2 107.0C737.6 107.4 741.9 107.5 745.0 108.0C748.1 108.6 751.2 109.5 753.7 110.2C756.1 110.9 758.1 111.7 760.2 112.4C762.2 113.1 764.8 113.7 766.7 114.5C768.6 115.4 770.3 116.9 772.1 117.8C773.8 118.7 775.8 119.2 777.5 120.0C779.2 120.7 781.4 121.6 782.9 122.7C784.5 123.7 785.9 125.4 787.2 126.5C788.6 127.5 790.2 128.6 791.6 129.2C793.0 129.8 794.5 129.7 795.9 130.2C797.3 130.8 798.9 131.6 800.2 132.4C801.6 133.3 803.2 134.5 804.6 135.7C806.0 136.8 808.1 138.6 808.9 139.5C809.8 140.3 809.0 140.1 810.0 140.8C811.0 141.6 813.4 142.8 815.0 144.2C816.6 145.5 818.4 147.6 820.0 149.2C821.6 150.8 823.4 152.8 825.0 154.2C826.6 155.5 828.4 156.2 830.0 157.5C831.6 158.8 833.4 161.0 835.0 162.5C836.6 164.0 838.4 165.7 840.0 166.7C841.6 167.6 843.4 167.5 845.0 168.3C846.6 169.1 848.4 170.6 850.0 171.7C851.6 172.7 853.4 173.8 855.0 175.0C856.6 176.2 858.4 177.6 860.0 179.2C861.6 180.8 863.4 182.9 865.0 185.0C866.6 187.1 868.4 190.6 870.0 192.5C871.6 194.4 872.9 195.6 875.0 196.7C877.1 197.7 881.5 197.8 883.3 199.2C885.2 200.5 885.6 203.1 886.7 205.0C887.7 206.9 888.9 209.0 890.0 210.8C891.1 212.7 892.3 215.1 893.3 216.7C894.4 218.3 895.6 219.0 896.7 220.8C897.7 222.7 898.9 226.3 900.0 228.3C901.1 230.3 902.3 232.0 903.3 233.3C904.4 234.7 905.5 236.2 906.7 236.7C907.9 237.1 909.6 236.1 910.8 236.3C912.0 236.6 913.2 236.9 914.2 238.3C915.1 239.7 915.7 242.7 916.7 245.0C917.6 247.3 918.8 250.5 920.0 252.5C921.2 254.5 922.8 256.3 924.2 257.5C925.5 258.7 926.9 259.3 928.3 260.0C929.8 260.7 931.7 260.6 933.3 261.7C934.9 262.7 936.7 265.3 938.3 266.7C939.9 268.0 941.9 269.1 943.3 270.0C944.8 270.9 946.3 271.0 947.5 272.5C948.7 274.0 949.6 277.0 950.8 279.2C952.0 281.3 953.8 284.2 955.0 285.8C956.2 287.4 957.3 287.7 958.3 289.2C959.4 290.6 960.6 293.0 961.7 295.0C962.7 297.0 963.9 299.3 965.0 301.7C966.1 304.1 967.0 307.9 968.3 310.0C969.7 312.1 972.0 314.0 973.3 315.0C974.7 316.0 975.5 315.5 976.7 316.3C977.9 317.1 979.5 319.2 980.8 320.0C982.2 320.8 983.7 321.0 985.0 321.2C986.3 321.4 988.0 321.2 989.2 321.2C990.4 321.1 991.4 320.2 992.5 320.8C993.6 321.4 994.8 323.7 995.8 325.0C996.9 326.3 998.1 328.5 999.2 328.7C1000.2 328.8 1001.6 326.8 1002.5 325.8C1003.4 324.8 1004.2 322.9 1005.0 322.5C1005.8 322.1 1006.6 323.7 1007.5 323.3C1008.4 322.9 1009.6 320.9 1010.8 320.0C1012.0 319.1 1013.7 318.3 1015.0 317.5C1016.3 316.7 1018.0 314.9 1019.2 315.0C1020.4 315.1 1021.3 316.7 1022.5 318.3C1023.7 319.9 1025.5 324.5 1026.7 325.0C1027.9 325.5 1029.1 322.4 1030.0 321.7C1030.9 320.9 1031.7 319.9 1032.5 320.3C1033.3 320.7 1033.9 323.2 1035.0 324.2C1036.1 325.2 1038.0 326.4 1039.2 326.7C1040.4 326.9 1041.6 325.3 1042.5 325.8C1043.4 326.4 1044.1 328.5 1045.0 330.0C1045.9 331.5 1047.3 333.1 1048.3 335.0C1049.4 336.9 1050.6 339.4 1051.7 341.7C1052.7 343.9 1053.9 347.4 1055.0 349.2C1056.1 350.9 1057.5 351.8 1058.3 352.5C1059.1 353.2 1059.5 353.1 1060.0 353.3C1060.5 353.6 1060.9 354.3 1061.7 354.2C1062.5 354.0 1063.8 353.4 1065.0 352.5C1066.2 351.6 1068.1 348.6 1069.2 348.3C1070.2 348.1 1070.9 349.6 1071.7 350.8C1072.5 352.0 1073.5 354.4 1074.2 355.8C1074.8 357.3 1075.2 358.3 1075.8 360.0C1076.5 361.7 1077.5 365.2 1078.3 366.7C1079.1 368.1 1079.9 368.5 1080.8 369.2C1081.8 369.8 1083.1 370.0 1084.2 370.8C1085.2 371.6 1086.6 372.6 1087.5 374.2C1088.4 375.8 1089.1 378.6 1090.0 380.8C1090.9 383.1 1092.3 387.3 1093.3 388.3C1094.4 389.4 1095.6 388.3 1096.7 387.5C1097.7 386.7 1098.8 384.7 1100.0 383.3C1101.2 382.0 1102.8 380.2 1104.2 379.2C1105.5 378.1 1107.0 377.2 1108.3 376.7C1109.7 376.1 1111.2 375.7 1112.5 375.8C1113.8 376.0 1115.3 376.3 1116.7 377.5C1118.0 378.7 1119.5 381.2 1120.8 383.3C1122.2 385.5 1123.7 389.0 1125.0 390.8C1126.3 392.7 1127.8 393.9 1129.2 395.0C1130.5 396.1 1132.0 396.8 1133.3 397.5C1134.7 398.2 1136.3 399.2 1137.5 399.2C1138.7 399.2 1139.8 398.4 1140.8 397.5C1141.9 396.6 1143.1 394.1 1144.2 393.3C1145.2 392.5 1146.4 391.8 1147.5 392.5C1148.6 393.2 1149.8 396.1 1150.8 397.5C1151.9 398.9 1153.1 401.1 1154.2 401.3C1155.2 401.6 1156.4 400.3 1157.5 399.2C1158.6 398.0 1159.8 395.6 1160.8 394.2C1161.9 392.7 1163.1 390.5 1164.2 390.0C1165.2 389.5 1166.7 390.3 1167.5 390.8C1168.3 391.4 1168.8 392.9 1169.0 393.3" fill="none" stroke="#006400" stroke-width="0.9" stroke-linejoin="round" stroke-linecap="round" stroke-opacity="0.62"/>
<path d="M59.5 365.8C60.0 366.3 61.4 368.2 62.5 368.8C63.6 369.5 65.2 369.7 66.7 370.0C68.1 370.3 69.9 370.2 71.7 370.8C73.4 371.5 75.6 373.4 77.5 374.2C79.4 375.0 81.3 375.3 83.3 375.8C85.3 376.4 87.6 377.0 90.0 377.5C92.4 378.0 96.2 378.8 98.3 379.2C100.5 379.5 101.7 378.9 103.3 379.7C104.9 380.5 106.7 383.1 108.3 384.2C109.9 385.3 111.7 386.0 113.3 386.7C114.9 387.3 116.7 388.5 118.3 388.3C119.9 388.2 121.7 387.0 123.3 385.8C124.9 384.6 126.7 382.4 128.3 380.8C129.9 379.2 132.0 377.3 133.3 375.8C134.7 374.4 135.5 372.6 136.7 371.7C137.9 370.7 139.4 369.9 140.8 370.0C142.3 370.1 144.4 371.6 145.8 372.5C147.3 373.4 148.5 374.4 150.0 375.5C151.5 376.6 153.4 377.8 155.0 379.2C156.6 380.6 158.5 382.7 160.0 384.2C161.5 385.6 162.8 386.1 164.2 388.3C165.5 390.5 166.9 396.4 168.3 397.8C169.8 399.3 171.7 397.6 173.3 397.5C174.9 397.4 176.7 397.1 178.3 397.0C179.9 396.9 181.7 396.5 183.3 396.7C184.9 396.8 187.0 397.7 188.3 397.8C189.7 398.0 190.3 398.2 191.7 397.5C193.0 396.8 195.1 394.7 196.7 393.3C198.3 392.0 200.3 390.6 201.7 389.2C203.0 387.7 203.9 385.3 205.0 384.2C206.1 383.1 207.1 381.2 208.3 382.2C209.5 383.1 211.2 388.1 212.5 390.0C213.8 391.9 215.2 393.2 216.7 394.2C218.1 395.2 220.3 396.2 221.7 396.3C223.0 396.5 223.8 395.7 225.0 395.0C226.2 394.3 228.0 391.9 229.2 391.7C230.4 391.4 231.4 392.0 232.5 393.3C233.6 394.7 234.6 397.7 235.8 400.0C237.0 402.3 238.7 406.0 240.0 407.5C241.3 409.0 243.0 409.2 244.2 409.5C245.4 409.8 246.6 409.5 247.5 409.2C248.4 408.9 249.1 408.7 250.0 407.5C250.9 406.3 252.3 403.1 253.3 401.7C254.4 400.2 255.5 399.3 256.7 398.3C257.9 397.4 259.6 396.9 260.8 395.8C262.0 394.8 263.0 393.0 264.2 391.7C265.4 390.3 267.0 388.7 268.3 387.5C269.7 386.3 271.2 385.5 272.5 384.2C273.8 382.8 275.2 380.6 276.7 379.2C278.1 377.7 280.2 375.8 281.7 375.0C283.1 374.2 284.4 374.4 285.8 374.2C287.3 373.9 289.4 374.3 290.8 373.3C292.3 372.4 293.7 369.7 295.0 368.3C296.3 367.0 297.8 365.7 299.2 365.0C300.5 364.3 302.0 364.7 303.3 364.2C304.7 363.6 306.3 362.3 307.5 361.7C308.7 361.0 309.6 359.6 310.8 360.0C312.0 360.4 313.7 363.0 315.0 364.2C316.3 365.4 317.8 367.2 319.2 367.5C320.5 367.8 322.1 366.8 323.3 365.8C324.5 364.9 325.5 363.4 326.7 361.7C327.9 359.9 329.5 356.9 330.8 355.0C332.2 353.1 333.5 351.5 335.0 350.0C336.5 348.5 338.5 347.2 340.0 345.8C341.5 344.5 342.8 342.9 344.2 341.7C345.5 340.5 347.0 339.5 348.3 338.3C349.7 337.1 351.2 335.6 352.5 334.2C353.8 332.7 355.2 330.9 356.7 329.2C358.1 327.4 360.3 324.8 361.7 323.3C363.0 321.9 364.2 321.6 365.0 320.0C365.8 318.4 365.9 315.6 366.7 313.3C367.5 311.1 368.8 308.0 370.0 305.8C371.2 303.7 372.8 301.6 374.2 300.0C375.5 298.4 376.9 297.3 378.3 295.8C379.8 294.4 381.7 292.3 383.3 290.8C384.9 289.4 386.7 287.9 388.3 286.7C389.9 285.5 391.9 284.7 393.3 283.3C394.8 282.0 396.2 280.5 397.5 278.3C398.8 276.2 400.3 272.3 401.7 270.0C403.0 267.7 404.5 265.9 405.8 264.2C407.2 262.4 408.8 261.4 410.0 259.2C411.2 256.9 412.1 252.4 413.3 250.0C414.5 247.6 416.2 246.2 417.5 244.2C418.8 242.2 420.3 239.4 421.7 237.5C423.0 235.6 424.8 233.7 425.8 232.5C426.9 231.3 427.3 231.7 428.3 230.0C429.4 228.3 431.2 223.7 432.5 221.7C433.8 219.7 435.2 218.7 436.7 217.5C438.1 216.3 440.1 215.4 441.7 214.2C443.3 213.0 445.1 211.3 446.7 210.0C448.3 208.7 450.1 207.4 451.7 205.8C453.3 204.2 454.9 202.0 456.7 200.0C458.4 198.0 460.6 195.3 462.5 193.3C464.4 191.3 466.6 189.2 468.3 187.5C470.1 185.8 471.7 184.4 473.3 182.5C474.9 180.6 476.7 178.0 478.3 175.8C479.9 173.7 481.7 171.4 483.3 169.2C484.9 166.9 486.7 163.8 488.3 161.7C489.9 159.5 491.7 157.8 493.3 155.8C494.9 153.8 496.7 150.9 498.3 149.2C499.9 147.4 501.7 146.3 503.3 145.0C504.9 143.7 505.4 144.2 508.3 140.8C511.3 137.5 518.7 127.6 521.7 124.2C524.6 120.7 525.1 120.5 526.7 119.2C528.3 117.8 530.1 116.9 531.7 115.8C533.3 114.8 535.1 113.4 536.7 112.5C538.3 111.6 540.1 110.8 541.7 110.0C543.3 109.2 544.8 108.3 546.7 107.5C548.5 106.7 551.2 105.7 553.3 105.0C555.5 104.3 557.9 103.3 560.0 103.0C562.1 102.7 564.4 103.0 566.2 103.0C568.1 102.9 569.9 102.5 571.7 102.4C573.4 102.3 575.3 102.2 577.1 102.1C578.8 102.0 580.8 102.0 582.5 101.9C584.2 101.8 586.2 101.6 587.9 101.5C589.7 101.5 591.6 101.4 593.3 101.3C595.1 101.3 597.0 101.2 598.8 101.1C600.5 101.1 602.4 101.1 604.2 101.0C605.9 100.9 607.8 100.8 609.6 100.8C611.3 100.7 613.3 100.8 615.0 100.8C616.7 100.8 618.7 100.7 620.4 100.8C622.2 100.8 624.1 101.0 625.8 101.0C627.6 101.0 629.5 101.0 631.2 101.0C633.0 101.0 634.9 101.1 636.7 101.1C638.4 101.2 640.3 101.3 642.1 101.3C643.8 101.4 645.8 101.5 647.5 101.5C649.2 101.6 651.2 101.6 652.9 101.7C654.7 101.7 656.6 101.7 658.3 101.7C660.1 101.7 662.0 101.6 663.8 101.7C665.5 101.7 667.4 101.8 669.2 101.9C670.9 101.9 672.8 102.0 674.6 102.1C676.3 102.2 677.4 102.3 680.0 102.4C682.6 102.5 687.4 102.4 690.8 102.6C694.3 102.8 698.2 103.4 701.7 103.7C705.1 104.1 709.0 104.5 712.5 104.8C716.0 105.1 719.9 105.4 723.3 105.7C726.8 105.9 730.7 106.2 734.2 106.4C737.6 106.7 741.9 107.1 745.0 107.3C748.1 107.5 751.1 107.1 753.7 107.5C756.3 107.9 758.8 108.9 761.2 109.7C763.7 110.5 766.6 111.6 768.8 112.4C771.1 113.2 773.2 113.8 775.3 114.5C777.4 115.2 779.8 115.9 781.8 116.7C783.9 117.5 786.8 118.5 788.3 119.4C789.9 120.4 790.5 121.6 791.6 122.7C792.6 123.7 793.8 124.9 794.8 125.9C795.9 127.0 797.0 128.0 798.1 129.2C799.1 130.4 800.3 132.2 801.3 133.5C802.4 134.8 803.7 136.2 804.6 137.3C805.4 138.3 805.9 139.7 806.8 140.0C807.6 140.3 808.7 139.2 810.0 139.2C811.3 139.2 813.4 139.2 815.0 140.0C816.6 140.8 818.1 142.8 820.0 144.2C821.9 145.5 824.5 147.3 826.7 148.3C828.8 149.4 831.2 150.2 833.3 150.8C835.5 151.5 837.9 151.7 840.0 152.5C842.1 153.3 844.8 154.9 846.7 155.8C848.5 156.8 850.1 157.4 851.7 158.3C853.3 159.3 855.1 161.0 856.7 161.7C858.3 162.3 860.1 162.1 861.7 162.5C863.3 162.9 865.1 163.2 866.7 164.2C868.3 165.1 870.1 166.9 871.7 168.3C873.3 169.8 875.1 171.7 876.7 173.3C878.3 174.9 880.1 176.7 881.7 178.3C883.3 179.9 885.1 181.2 886.7 183.3C888.3 185.5 890.1 189.3 891.7 191.7C893.3 194.1 895.3 197.0 896.7 198.3C898.0 199.7 898.5 199.2 900.0 200.0C901.5 200.8 904.2 201.7 905.8 203.3C907.4 204.9 908.5 208.1 910.0 210.0C911.5 211.9 913.1 213.3 915.0 215.0C916.9 216.7 919.5 219.4 921.7 220.8C923.8 222.3 926.2 223.2 928.3 224.2C930.5 225.2 932.9 225.8 935.0 227.0C937.1 228.2 939.8 230.1 941.7 231.7C943.5 233.2 945.1 235.3 946.7 236.7C948.3 238.0 950.1 238.7 951.7 240.0C953.3 241.3 955.2 243.1 956.7 245.0C958.1 246.9 959.5 249.5 960.8 251.7C962.2 253.8 963.8 256.2 965.0 258.3C966.2 260.5 967.3 262.6 968.3 265.0C969.4 267.4 970.6 270.9 971.7 273.3C972.7 275.7 973.9 278.1 975.0 280.0C976.1 281.9 977.0 283.5 978.3 285.0C979.7 286.5 981.9 288.0 983.3 289.2C984.8 290.4 986.0 291.5 987.5 292.5C989.0 293.5 990.8 295.0 992.5 295.3C994.2 295.7 996.9 294.3 998.3 294.7C999.8 295.0 1000.6 296.2 1001.7 297.5C1002.7 298.8 1003.9 301.2 1005.0 302.5C1006.1 303.8 1007.1 305.2 1008.3 305.8C1009.5 306.5 1011.2 305.7 1012.5 306.7C1013.8 307.6 1015.3 310.1 1016.7 311.7C1018.0 313.3 1019.5 315.3 1020.8 316.7C1022.2 318.0 1023.7 319.1 1025.0 320.0C1026.3 320.9 1027.8 322.0 1029.2 322.5C1030.5 323.0 1032.0 322.7 1033.3 323.3C1034.7 324.0 1036.2 325.8 1037.5 326.7C1038.8 327.5 1040.2 328.2 1041.7 328.7C1043.1 329.2 1045.1 329.3 1046.7 329.7C1048.3 330.0 1050.1 330.6 1051.7 330.8C1053.3 331.1 1055.3 331.3 1056.7 331.3C1058.0 331.3 1058.7 331.0 1060.0 330.8C1061.3 330.7 1063.1 330.5 1065.0 330.3C1066.9 330.2 1069.7 329.8 1071.7 330.0C1073.7 330.2 1075.9 330.9 1077.5 331.3C1079.1 331.7 1080.6 331.4 1081.7 332.5C1082.7 333.6 1083.2 336.2 1084.2 338.3C1085.1 340.5 1086.6 344.4 1087.5 345.8C1088.4 347.3 1089.1 348.0 1090.0 347.5C1090.9 347.0 1092.3 344.4 1093.3 342.5C1094.4 340.6 1095.7 337.2 1096.7 335.8C1097.6 334.5 1098.2 333.9 1099.2 334.2C1100.1 334.4 1101.4 336.4 1102.5 337.5C1103.6 338.6 1104.8 339.9 1105.8 340.8C1106.9 341.8 1108.2 341.9 1109.2 343.3C1110.1 344.8 1110.7 347.9 1111.7 350.0C1112.6 352.1 1114.1 355.1 1115.0 356.7C1115.9 358.3 1116.4 358.5 1117.5 360.0C1118.6 361.5 1120.3 364.4 1121.7 365.8C1123.0 367.3 1124.6 368.4 1125.8 369.2C1127.0 370.0 1128.1 370.4 1129.2 370.8C1130.2 371.2 1131.6 371.9 1132.5 371.7C1133.4 371.4 1134.2 370.4 1135.0 369.2C1135.8 368.0 1136.7 365.6 1137.5 364.2C1138.3 362.7 1139.2 360.5 1140.0 360.0C1140.8 359.5 1141.7 360.3 1142.5 360.8C1143.3 361.4 1144.1 363.1 1145.0 363.3C1145.9 363.6 1147.0 362.7 1148.3 362.5C1149.7 362.3 1152.0 361.7 1153.3 362.0C1154.7 362.3 1155.6 363.4 1156.7 364.2C1157.7 364.9 1158.9 366.1 1160.0 366.7C1161.1 367.2 1162.1 367.3 1163.3 367.5C1164.5 367.7 1166.6 367.7 1167.5 368.0C1168.4 368.3 1168.8 369.0 1169.0 369.2" fill="none" stroke="#ffc800" stroke-width="0.9" stroke-linejoin="round" stroke-linecap="round" stroke-opacity="0.7"/>
<path d="M59.5 365.8C60.0 365.3 61.4 363.2 62.5 362.5C63.6 361.8 65.2 361.3 66.7 361.2C68.1 361.0 69.9 361.7 71.7 361.7C73.4 361.6 75.6 361.5 77.5 360.8C79.4 360.2 81.6 357.3 83.3 357.5C85.1 357.7 86.9 360.6 88.3 362.0C89.8 363.4 91.3 365.8 92.5 366.2C93.7 366.5 94.9 364.4 95.8 364.2C96.8 363.9 97.4 364.2 98.3 364.7C99.3 365.2 100.6 367.5 101.7 367.2C102.7 366.8 103.9 363.9 105.0 362.5C106.1 361.1 107.3 359.3 108.3 358.7C109.4 358.0 110.6 358.1 111.7 358.3C112.7 358.5 113.7 358.7 115.0 360.0C116.3 361.3 118.4 364.5 120.0 366.7C121.6 368.8 123.4 371.5 125.0 373.3C126.6 375.2 128.4 378.1 130.0 378.3C131.6 378.6 133.7 376.3 135.0 375.0C136.3 373.7 137.3 371.3 138.3 370.0C139.4 368.7 140.6 367.2 141.7 366.7C142.7 366.1 143.7 366.3 145.0 366.7C146.3 367.1 148.5 368.2 150.0 369.2C151.5 370.1 153.0 372.5 154.2 372.5C155.4 372.5 156.4 370.4 157.5 369.2C158.6 368.0 159.6 365.7 160.8 365.0C162.0 364.3 163.8 364.0 165.0 364.5C166.2 365.0 167.1 367.6 168.3 368.3C169.5 369.0 171.2 369.2 172.5 368.8C173.8 368.4 175.3 367.4 176.7 365.8C178.0 364.3 179.6 360.9 180.8 359.2C182.0 357.4 183.1 355.6 184.2 355.0C185.2 354.4 186.3 354.4 187.5 355.5C188.7 356.6 190.2 359.8 191.7 361.7C193.1 363.6 195.1 367.1 196.7 367.5C198.3 367.9 200.1 365.2 201.7 364.2C203.3 363.2 205.2 361.7 206.7 361.3C208.1 361.0 209.6 361.1 210.8 362.0C212.0 362.9 213.0 364.9 214.2 366.7C215.3 368.5 216.6 373.5 217.8 373.3C219.0 373.2 220.5 367.8 221.7 365.8C222.8 363.8 223.8 361.8 225.0 360.8C226.2 359.9 227.8 358.8 229.2 360.0C230.5 361.2 231.9 366.7 233.3 368.3C234.8 370.0 236.9 370.5 238.3 370.3C239.8 370.2 240.6 368.2 242.5 367.5C244.4 366.8 248.1 365.8 250.0 365.8C251.9 365.8 252.8 367.1 254.2 367.5C255.5 367.9 257.0 368.6 258.3 368.3C259.7 368.1 261.2 366.8 262.5 365.8C263.8 364.9 265.3 363.2 266.7 362.5C268.0 361.8 269.5 361.9 270.8 361.7C272.2 361.5 273.7 361.1 275.0 361.3C276.3 361.6 278.0 362.6 279.2 363.3C280.4 364.1 281.4 365.8 282.5 365.8C283.6 365.8 284.8 364.7 285.8 363.3C286.9 362.0 288.1 359.5 289.2 357.5C290.2 355.5 291.3 352.6 292.5 350.8C293.7 349.1 295.2 347.9 296.7 346.7C298.1 345.5 300.1 344.3 301.7 343.3C303.3 342.4 305.1 341.6 306.7 340.8C308.3 340.0 310.3 338.7 311.7 338.3C313.0 337.9 313.8 339.0 315.0 338.3C316.2 337.7 317.8 335.4 319.2 334.2C320.5 333.0 321.9 331.5 323.3 330.8C324.8 330.2 327.0 330.7 328.3 330.0C329.7 329.3 330.3 328.3 331.7 326.7C333.0 325.1 335.3 321.8 336.7 320.0C338.0 318.2 338.7 316.1 340.0 315.3C341.3 314.6 343.4 315.4 345.0 315.5C346.6 315.6 348.4 315.9 350.0 316.2C351.6 316.4 353.5 316.9 355.0 317.0C356.5 317.1 358.1 317.3 359.2 317.0C360.2 316.7 360.7 316.3 361.7 315.0C362.6 313.7 363.8 311.3 365.0 309.2C366.2 307.0 367.8 304.2 369.2 301.7C370.5 299.1 372.0 296.5 373.3 293.3C374.7 290.1 376.2 285.0 377.5 281.7C378.8 278.3 380.3 274.5 381.7 272.5C383.0 270.5 384.2 270.4 385.8 269.2C387.4 268.0 389.9 267.3 391.7 265.0C393.4 262.7 395.2 257.9 396.7 255.0C398.1 252.1 399.6 248.8 400.8 246.7C402.0 244.6 403.0 243.0 404.2 242.0C405.4 241.0 407.0 240.8 408.3 240.3C409.7 239.9 411.2 239.6 412.5 239.2C413.8 238.7 415.5 238.3 416.7 237.5C417.9 236.7 418.8 235.4 420.0 234.2C421.2 233.0 422.8 232.3 424.2 230.0C425.5 227.7 427.0 221.7 428.3 220.0C429.7 218.3 431.2 219.4 432.5 219.5C433.8 219.6 435.3 220.5 436.7 220.5C438.0 220.5 439.5 220.3 440.8 219.7C442.2 219.1 443.5 217.9 445.0 216.7C446.5 215.4 448.4 213.7 450.0 211.7C451.6 209.7 453.4 206.4 455.0 204.2C456.6 201.9 458.4 199.5 460.0 197.5C461.6 195.5 463.5 193.5 465.0 191.7C466.5 189.8 467.8 188.1 469.2 185.8C470.5 183.6 472.0 179.8 473.3 177.5C474.7 175.2 476.2 173.7 477.5 171.7C478.8 169.7 480.3 167.1 481.7 165.0C483.0 162.9 484.5 160.1 485.8 158.3C487.2 156.6 488.7 155.6 490.0 154.2C491.3 152.7 492.8 150.9 494.2 149.2C495.5 147.4 497.3 144.8 498.3 143.3C499.4 141.9 497.6 143.1 500.8 140.0C504.0 136.9 514.7 127.4 518.3 124.2C521.9 121.0 521.7 121.3 523.3 120.0C524.9 118.7 526.7 117.0 528.3 115.8C529.9 114.6 531.7 113.3 533.3 112.5C534.9 111.7 536.7 111.5 538.3 110.8C539.9 110.2 541.5 109.3 543.3 108.3C545.2 107.4 547.9 105.8 550.0 105.0C552.1 104.2 554.9 103.6 556.7 103.3C558.4 103.0 559.3 103.4 560.8 103.2C562.4 103.0 564.5 102.3 566.2 102.1C568.0 101.8 569.9 101.7 571.7 101.5C573.4 101.4 575.3 101.3 577.1 101.2C578.8 101.1 580.8 101.1 582.5 101.0C584.2 100.9 586.2 100.8 587.9 100.7C589.7 100.6 591.6 100.5 593.3 100.5C595.1 100.4 597.0 100.3 598.8 100.2C600.5 100.2 602.4 100.2 604.2 100.1C605.9 100.1 607.8 100.0 609.6 99.9C611.3 99.9 613.3 99.9 615.0 99.9C616.7 99.9 618.7 99.9 620.4 99.9C622.2 100.0 624.1 100.1 625.8 100.1C627.6 100.2 629.5 100.1 631.2 100.1C633.0 100.1 634.9 100.2 636.7 100.2C638.4 100.3 640.3 100.4 642.1 100.5C643.8 100.5 645.8 100.6 647.5 100.7C649.2 100.7 651.2 100.8 652.9 100.8C654.7 100.8 656.6 100.8 658.3 100.8C660.1 100.8 662.0 100.7 663.8 100.8C665.5 100.8 667.4 100.9 669.2 101.0C670.9 101.1 672.8 101.1 674.6 101.2C676.3 101.3 677.4 101.4 680.0 101.5C682.6 101.7 687.4 101.8 690.8 102.1C694.3 102.4 698.2 103.0 701.7 103.4C705.1 103.8 709.0 104.2 712.5 104.5C716.0 104.8 719.9 105.0 723.3 105.3C726.8 105.6 730.7 106.1 734.2 106.4C737.6 106.8 741.5 107.2 745.0 107.5C748.5 107.8 753.2 108.2 755.8 108.6C758.4 108.9 759.5 109.2 761.2 109.7C763.0 110.1 764.9 110.8 766.7 111.3C768.4 111.8 770.3 112.2 772.1 112.7C773.8 113.2 775.8 114.0 777.5 114.5C779.2 115.1 781.2 115.7 782.9 116.2C784.7 116.7 786.6 117.1 788.3 117.8C790.1 118.5 792.0 119.6 793.8 120.5C795.5 121.4 797.4 122.4 799.2 123.2C800.9 124.0 802.8 124.6 804.6 125.4C806.3 126.2 808.3 127.3 810.0 128.1C811.7 128.8 813.4 129.2 815.0 130.0C816.6 130.8 818.5 132.1 820.0 133.3C821.5 134.5 822.8 136.4 824.2 137.5C825.5 138.6 826.9 139.2 828.3 140.0C829.8 140.8 831.7 141.8 833.3 142.5C834.9 143.2 836.7 144.1 838.3 144.7C839.9 145.3 841.7 145.5 843.3 146.3C844.9 147.2 846.7 148.9 848.3 150.0C849.9 151.1 851.7 152.3 853.3 153.3C854.9 154.4 856.7 155.3 858.3 156.7C859.9 158.0 861.7 160.2 863.3 161.7C864.9 163.1 866.7 165.0 868.3 165.8C869.9 166.6 871.7 166.1 873.3 166.7C874.9 167.2 876.7 168.6 878.3 169.2C879.9 169.7 881.7 169.6 883.3 170.0C884.9 170.4 886.7 171.7 888.3 171.7C889.9 171.7 892.0 170.4 893.3 170.0C894.7 169.6 895.6 168.9 896.7 169.2C897.7 169.4 898.9 170.5 900.0 171.7C901.1 172.9 902.3 174.8 903.3 176.7C904.4 178.5 905.5 181.2 906.7 183.3C907.9 185.5 909.5 188.5 910.8 190.0C912.2 191.5 913.8 191.7 915.0 192.5C916.2 193.3 917.3 193.8 918.3 195.0C919.4 196.2 920.7 198.5 921.7 200.0C922.6 201.5 923.1 202.3 924.2 204.2C925.2 206.0 926.9 210.1 928.3 211.7C929.8 213.2 931.7 213.3 933.3 213.7C934.9 214.1 936.9 213.3 938.3 214.2C939.8 215.0 941.4 217.6 942.5 219.2C943.6 220.8 943.8 222.7 945.0 224.2C946.2 225.6 948.4 227.0 950.0 228.3C951.6 229.7 953.4 230.6 955.0 232.5C956.6 234.4 958.4 237.7 960.0 240.0C961.6 242.3 963.4 245.1 965.0 246.7C966.6 248.3 968.5 248.5 970.0 250.0C971.5 251.5 972.8 254.0 974.2 255.8C975.5 257.7 976.9 259.8 978.3 261.7C979.8 263.5 981.9 265.9 983.3 267.5C984.8 269.1 986.3 270.1 987.5 271.7C988.7 273.3 989.8 275.5 990.8 277.5C991.9 279.5 993.2 282.2 994.2 284.2C995.1 286.2 995.9 288.9 996.7 290.0C997.5 291.1 998.2 290.4 999.2 290.8C1000.1 291.2 1001.4 292.6 1002.5 292.5C1003.6 292.4 1004.8 291.2 1005.8 290.0C1006.9 288.8 1008.3 286.1 1009.2 285.0C1010.0 283.9 1010.7 282.8 1011.3 283.3C1012.0 283.9 1012.5 286.4 1013.3 288.3C1014.2 290.2 1015.6 294.8 1016.7 295.3C1017.7 295.9 1018.9 293.1 1020.0 291.7C1021.1 290.3 1022.3 287.7 1023.3 286.7C1024.4 285.6 1025.6 285.0 1026.7 285.0C1027.7 285.0 1028.8 286.5 1030.0 286.7C1031.2 286.9 1032.8 285.7 1034.2 286.3C1035.5 287.0 1037.1 289.2 1038.3 290.8C1039.5 292.5 1040.6 294.7 1041.7 296.7C1042.7 298.7 1043.9 301.9 1045.0 303.3C1046.1 304.8 1047.3 305.6 1048.3 305.8C1049.4 306.1 1050.6 304.7 1051.7 305.0C1052.7 305.3 1053.9 306.0 1055.0 307.5C1056.1 309.0 1057.5 312.8 1058.3 314.2C1059.1 315.5 1059.1 314.8 1060.0 315.8C1060.9 316.9 1062.8 319.5 1064.2 320.8C1065.5 322.2 1067.1 322.7 1068.3 324.2C1069.5 325.6 1070.6 328.8 1071.7 330.0C1072.7 331.2 1073.9 331.5 1075.0 331.7C1076.1 331.9 1077.3 331.1 1078.3 331.2C1079.3 331.2 1080.4 332.6 1081.3 332.2C1082.3 331.7 1083.2 329.3 1084.2 328.3C1085.2 327.4 1086.6 326.0 1087.5 326.2C1088.4 326.3 1089.1 327.5 1090.0 329.2C1090.9 330.9 1092.3 334.8 1093.3 336.7C1094.4 338.5 1095.6 339.6 1096.7 340.8C1097.7 342.0 1098.9 343.4 1100.0 344.2C1101.1 345.0 1102.1 345.4 1103.3 345.8C1104.5 346.2 1106.3 346.7 1107.5 346.7C1108.7 346.7 1109.8 345.3 1110.8 345.8C1111.9 346.4 1113.1 348.3 1114.2 350.0C1115.2 351.7 1116.6 355.1 1117.5 356.7C1118.4 358.3 1118.9 358.9 1120.0 360.0C1121.1 361.1 1123.0 363.3 1124.2 363.3C1125.4 363.3 1126.4 361.0 1127.5 360.0C1128.6 359.0 1129.6 357.8 1130.8 357.2C1132.0 356.6 1133.8 356.3 1135.0 356.3C1136.2 356.4 1137.3 357.1 1138.3 357.5C1139.4 357.9 1140.6 358.8 1141.7 358.7C1142.7 358.5 1143.9 357.9 1145.0 356.7C1146.1 355.4 1147.3 351.4 1148.3 350.8C1149.4 350.3 1150.7 352.0 1151.7 353.3C1152.6 354.7 1153.2 357.4 1154.2 359.2C1155.1 360.9 1156.4 362.8 1157.5 364.2C1158.6 365.5 1159.8 367.4 1160.8 367.5C1161.9 367.6 1163.1 365.8 1164.2 365.0C1165.2 364.2 1166.7 363.2 1167.5 362.5C1168.3 361.8 1168.8 361.1 1169.0 360.8" fill="none" stroke="#ff0000" stroke-width="0.9" stroke-linejoin="round" stroke-linecap="round" stroke-opacity="0.6"/>
<path d="M59.5 373.7C60.4 373.5 63.1 372.6 65.0 372.5C66.9 372.4 69.7 373.0 71.7 373.3C73.7 373.7 75.6 374.3 77.5 374.7C79.4 375.1 81.3 375.1 83.3 375.8C85.3 376.6 87.6 378.1 90.0 379.2C92.4 380.2 95.9 381.7 98.3 382.5C100.7 383.3 102.9 383.6 105.0 384.2C107.1 384.7 109.5 385.3 111.7 385.8C113.8 386.3 116.2 386.8 118.3 387.2C120.5 387.6 123.1 387.9 125.0 388.3C126.9 388.8 128.4 390.3 130.0 390.0C131.6 389.7 133.4 387.9 135.0 386.7C136.6 385.5 138.4 383.3 140.0 382.5C141.6 381.7 143.4 381.6 145.0 381.7C146.6 381.8 148.4 382.2 150.0 383.0C151.6 383.8 153.4 386.4 155.0 386.7C156.6 387.0 158.4 385.0 160.0 385.0C161.6 385.0 163.5 385.7 165.0 386.7C166.5 387.6 167.6 390.5 169.2 390.8C170.8 391.2 173.0 389.6 175.0 388.8C177.0 388.0 179.5 386.7 181.7 385.8C183.8 384.9 186.2 383.7 188.3 383.3C190.5 382.9 192.9 383.5 195.0 383.3C197.1 383.2 199.5 383.3 201.7 382.5C203.8 381.7 206.6 378.2 208.3 378.3C210.1 378.5 211.0 381.5 212.5 383.3C214.0 385.2 215.8 389.2 217.5 390.0C219.2 390.8 221.5 388.6 223.3 388.3C225.2 388.0 227.3 387.7 229.2 388.0C231.0 388.3 233.3 389.1 235.0 390.0C236.7 390.9 238.4 392.8 240.0 393.3C241.6 393.9 243.4 393.5 245.0 393.3C246.6 393.2 248.4 392.9 250.0 392.5C251.6 392.1 253.4 391.5 255.0 390.8C256.6 390.2 258.4 389.0 260.0 388.3C261.6 387.7 263.4 387.5 265.0 386.7C266.6 385.9 268.4 384.7 270.0 383.3C271.6 382.0 273.4 379.9 275.0 378.3C276.6 376.7 278.4 374.7 280.0 373.3C281.6 372.0 283.4 371.1 285.0 370.0C286.6 368.9 288.4 367.9 290.0 366.7C291.6 365.5 293.4 363.3 295.0 362.5C296.6 361.7 298.4 361.9 300.0 361.7C301.6 361.4 303.4 361.2 305.0 360.8C306.6 360.4 308.4 359.4 310.0 359.2C311.6 358.9 313.4 359.4 315.0 359.2C316.6 358.9 318.4 358.3 320.0 357.5C321.6 356.7 323.5 355.8 325.0 354.2C326.5 352.6 327.8 349.6 329.2 347.5C330.5 345.4 331.9 342.6 333.3 340.8C334.8 339.1 336.7 337.7 338.3 336.7C339.9 335.6 341.7 334.8 343.3 334.2C344.9 333.5 346.7 333.2 348.3 332.5C349.9 331.8 351.7 330.9 353.3 330.0C354.9 329.1 356.7 328.0 358.3 326.7C359.9 325.3 361.9 324.1 363.3 321.7C364.8 319.3 366.2 314.3 367.5 311.7C368.8 309.0 370.3 307.0 371.7 305.0C373.0 303.0 374.5 300.9 375.8 299.2C377.2 297.4 378.7 295.8 380.0 294.2C381.3 292.6 382.8 290.6 384.2 289.2C385.5 287.7 386.9 286.5 388.3 285.0C389.8 283.5 391.9 281.9 393.3 280.0C394.8 278.1 396.2 275.5 397.5 273.3C398.8 271.2 400.3 268.7 401.7 266.7C403.0 264.7 404.5 262.6 405.8 260.8C407.2 259.1 408.9 257.6 410.0 255.8C411.1 254.1 411.4 251.7 412.5 250.0C413.6 248.3 415.2 246.6 416.7 245.0C418.1 243.4 420.1 241.6 421.7 240.0C423.3 238.4 425.2 236.5 426.7 235.0C428.1 233.5 429.4 232.3 430.8 230.8C432.3 229.4 434.1 227.4 435.8 225.8C437.6 224.2 439.9 222.3 441.7 220.8C443.4 219.4 445.1 218.1 446.7 216.7C448.3 215.2 450.2 213.5 451.7 211.7C453.1 209.8 454.4 207.3 455.8 205.0C457.3 202.7 459.2 199.6 460.8 197.5C462.4 195.4 464.4 193.5 465.8 191.7C467.3 189.8 468.5 188.0 470.0 185.8C471.5 183.7 473.5 180.5 475.0 178.3C476.5 176.2 477.8 174.2 479.2 172.5C480.5 170.8 482.0 169.4 483.3 167.5C484.7 165.6 486.0 163.0 487.5 160.8C489.0 158.7 490.9 156.4 492.5 154.2C494.1 151.9 496.0 148.5 497.5 146.7C499.0 144.8 500.6 143.6 501.7 142.5C502.7 141.4 501.5 142.4 504.2 140.0C506.8 137.6 515.3 130.4 518.3 127.5C521.4 124.6 521.7 123.3 523.3 121.7C524.9 120.1 526.7 118.7 528.3 117.5C529.9 116.3 531.7 115.1 533.3 114.2C534.9 113.2 536.7 112.5 538.3 111.7C539.9 110.9 541.5 110.1 543.3 109.2C545.2 108.2 547.9 106.7 550.0 105.8C552.1 105.0 554.9 104.2 556.7 103.8C558.4 103.4 559.3 103.6 560.8 103.4C562.4 103.1 564.5 102.6 566.2 102.3C568.0 102.0 569.9 101.9 571.7 101.8C573.4 101.6 575.3 101.5 577.1 101.4C578.8 101.3 580.8 101.3 582.5 101.2C584.2 101.1 586.2 101.0 587.9 100.9C589.7 100.8 591.6 100.7 593.3 100.7C595.1 100.6 597.0 100.5 598.8 100.5C600.5 100.4 602.4 100.4 604.2 100.3C605.9 100.3 607.8 100.2 609.6 100.1C611.3 100.1 613.3 100.1 615.0 100.1C616.7 100.1 618.7 100.1 620.4 100.1C622.2 100.2 624.1 100.3 625.8 100.3C627.6 100.4 629.5 100.3 631.2 100.3C633.0 100.4 634.9 100.4 636.7 100.5C638.4 100.5 640.3 100.6 642.1 100.7C643.8 100.7 645.8 100.8 647.5 100.9C649.2 100.9 651.2 101.0 652.9 101.0C654.7 101.0 656.6 101.0 658.3 101.0C660.1 101.0 662.0 101.0 663.8 101.0C665.5 101.0 667.4 101.2 669.2 101.2C670.9 101.3 672.8 101.3 674.6 101.4C676.3 101.5 677.4 101.6 680.0 101.8C682.6 101.9 687.4 102.0 690.8 102.3C694.3 102.6 698.2 103.1 701.7 103.5C705.1 103.9 709.0 104.3 712.5 104.6C716.0 104.9 719.9 105.2 723.3 105.5C726.8 105.9 730.7 106.3 734.2 106.6C737.6 107.0 741.5 107.4 745.0 107.8C748.5 108.2 753.1 108.6 755.8 109.1C758.6 109.7 760.2 110.5 762.3 111.3C764.4 112.1 766.8 113.1 768.8 114.0C770.9 114.9 773.2 115.8 775.3 116.7C777.4 117.6 779.8 118.5 781.8 119.4C783.9 120.4 786.2 121.6 788.3 122.7C790.4 123.7 792.9 124.9 794.8 125.9C796.7 127.0 798.7 128.1 800.2 129.2C801.8 130.2 803.0 131.3 804.6 132.4C806.1 133.5 808.1 135.1 810.0 136.2C811.9 137.3 814.5 137.9 816.7 139.2C818.8 140.4 821.2 142.6 823.3 144.2C825.5 145.8 827.9 147.8 830.0 149.2C832.1 150.5 834.5 151.4 836.7 152.5C838.8 153.6 841.2 154.6 843.3 155.8C845.5 157.0 847.9 158.5 850.0 160.0C852.1 161.5 854.5 163.5 856.7 165.0C858.8 166.5 861.2 167.4 863.3 169.2C865.5 170.9 867.9 174.1 870.0 175.8C872.1 177.6 874.5 178.8 876.7 180.0C878.8 181.2 881.2 181.7 883.3 183.3C885.5 184.9 887.9 187.9 890.0 190.0C892.1 192.1 895.1 195.1 896.7 196.7C898.3 198.3 898.7 198.4 900.0 200.0C901.3 201.6 903.4 204.7 905.0 206.7C906.6 208.7 908.4 210.9 910.0 212.5C911.6 214.1 913.4 215.1 915.0 216.7C916.6 218.3 918.4 220.5 920.0 222.5C921.6 224.5 923.4 227.6 925.0 229.2C926.6 230.8 928.1 231.6 930.0 232.5C931.9 233.4 934.8 234.1 936.7 235.0C938.5 235.9 940.1 236.9 941.7 238.3C943.3 239.8 945.1 242.3 946.7 244.2C948.3 246.0 950.1 248.1 951.7 250.0C953.3 251.9 955.1 253.7 956.7 255.8C958.3 258.0 960.1 260.9 961.7 263.3C963.3 265.7 965.3 268.7 966.7 270.8C968.0 273.0 968.9 274.8 970.0 276.7C971.1 278.5 972.3 280.9 973.3 282.5C974.4 284.1 975.6 285.3 976.7 286.7C977.7 288.0 978.7 289.6 980.0 290.8C981.3 292.0 983.4 293.1 985.0 294.2C986.6 295.2 988.5 296.3 990.0 297.5C991.5 298.7 992.8 300.5 994.2 301.7C995.5 302.9 996.9 304.4 998.3 305.0C999.8 305.6 1001.7 305.6 1003.3 305.5C1004.9 305.4 1006.7 304.7 1008.3 304.5C1009.9 304.3 1011.7 303.7 1013.3 304.2C1014.9 304.7 1016.6 306.6 1018.3 307.5C1020.1 308.4 1022.4 309.3 1024.2 309.7C1025.9 310.1 1027.6 309.8 1029.2 310.0C1030.8 310.2 1032.7 310.3 1034.2 310.8C1035.6 311.4 1037.0 312.3 1038.3 313.3C1039.7 314.4 1041.2 316.2 1042.5 317.5C1043.8 318.8 1045.2 320.2 1046.7 321.7C1048.1 323.1 1050.2 325.2 1051.7 326.7C1053.1 328.1 1054.5 329.6 1055.8 330.8C1057.2 332.0 1058.8 333.6 1060.0 334.2C1061.2 334.8 1062.0 334.8 1063.3 334.7C1064.7 334.5 1066.9 332.7 1068.3 333.3C1069.8 333.9 1071.0 336.9 1072.5 338.3C1074.0 339.8 1075.9 341.4 1077.5 342.5C1079.1 343.6 1081.0 344.1 1082.5 345.0C1084.0 345.9 1085.3 346.9 1086.7 348.3C1088.0 349.8 1089.4 353.1 1090.8 354.2C1092.3 355.2 1094.1 355.0 1095.8 355.0C1097.6 355.0 1099.9 354.2 1101.7 354.2C1103.4 354.2 1105.1 354.6 1106.7 355.0C1108.3 355.4 1110.1 355.9 1111.7 356.7C1113.3 357.5 1115.3 358.0 1116.7 360.0C1118.0 362.0 1118.9 367.0 1120.0 369.2C1121.1 371.3 1122.1 372.4 1123.3 373.3C1124.5 374.3 1126.0 374.9 1127.5 375.0C1129.0 375.1 1130.9 374.4 1132.5 374.2C1134.1 373.9 1135.9 373.7 1137.5 373.3C1139.1 372.9 1140.9 372.3 1142.5 371.7C1144.1 371.0 1146.0 369.2 1147.5 369.2C1149.0 369.2 1150.3 370.7 1151.7 371.7C1153.0 372.6 1154.5 374.3 1155.8 375.0C1157.2 375.7 1158.5 376.5 1160.0 376.3C1161.5 376.2 1163.6 374.5 1165.0 374.2C1166.4 373.9 1168.4 374.4 1169.0 374.5" fill="none" stroke="#ff0000" stroke-width="1.7" stroke-linejoin="round" stroke-linecap="round" stroke-opacity="0.65" stroke-dasharray="5.3 6.7"/>
<path d="M59.5 423.3C60.4 422.8 63.1 421.2 65.0 420.3C66.9 419.5 69.7 418.2 71.7 418.0C73.7 417.8 75.6 418.4 77.5 419.2C79.4 419.9 81.5 423.0 83.3 422.5C85.2 422.0 87.4 417.1 89.2 416.3C90.9 415.5 92.6 417.8 94.2 417.5C95.8 417.2 97.6 415.1 99.2 414.2C100.8 413.2 102.8 411.5 104.2 411.7C105.5 411.8 106.3 413.8 107.5 415.0C108.7 416.2 110.1 418.5 111.7 419.2C113.3 419.8 115.6 419.7 117.5 419.2C119.4 418.6 121.3 416.9 123.3 415.8C125.3 414.8 128.1 413.6 130.0 412.5C131.9 411.4 133.5 410.0 135.0 409.2C136.5 408.4 137.8 407.6 139.2 407.5C140.5 407.4 141.9 407.7 143.3 408.3C144.8 409.0 146.7 410.7 148.3 411.7C149.9 412.6 151.7 413.1 153.3 414.2C154.9 415.2 156.7 416.3 158.3 418.3C159.9 420.3 161.7 424.5 163.3 426.7C164.9 428.8 166.7 430.7 168.3 431.7C169.9 432.7 171.6 432.8 173.3 433.0C175.1 433.2 177.3 433.1 179.2 433.0C181.0 432.9 183.3 433.0 185.0 432.5C186.7 432.0 188.4 430.8 190.0 430.0C191.6 429.2 193.3 428.3 195.0 427.5C196.7 426.7 199.1 425.7 200.8 425.0C202.6 424.3 204.2 423.0 205.8 423.0C207.4 423.0 209.1 424.9 210.8 425.0C212.6 425.1 214.9 423.1 216.7 423.3C218.4 423.5 220.1 426.1 221.7 426.3C223.3 426.6 225.1 425.7 226.7 425.0C228.3 424.3 229.7 423.2 231.7 422.2C233.7 421.2 237.3 419.2 239.2 418.8C241.0 418.5 241.6 420.3 243.3 420.0C245.1 419.7 248.0 417.2 250.0 416.7C252.0 416.1 254.0 416.9 255.8 416.7C257.7 416.5 259.9 415.7 261.7 415.3C263.4 414.9 264.9 414.7 266.7 414.2C268.4 413.7 270.6 412.4 272.5 412.2C274.4 412.0 276.5 413.1 278.3 413.0C280.2 412.9 282.3 411.7 284.2 411.3C286.0 411.0 288.3 411.3 290.0 410.8C291.7 410.3 293.4 409.5 295.0 408.3C296.6 407.1 298.4 404.8 300.0 403.3C301.6 401.9 303.3 400.4 305.0 399.2C306.7 398.0 309.0 396.8 310.8 395.8C312.7 394.9 314.7 393.9 316.7 393.3C318.7 392.7 321.5 392.9 323.3 392.0C325.2 391.1 326.7 388.8 328.3 387.5C329.9 386.2 331.7 384.9 333.3 383.7C334.9 382.5 336.7 381.4 338.3 380.0C339.9 378.6 341.7 376.6 343.3 375.0C344.9 373.4 346.7 371.6 348.3 370.0C349.9 368.4 351.7 366.7 353.3 365.0C354.9 363.3 356.7 361.0 358.3 359.2C359.9 357.3 361.9 355.5 363.3 353.3C364.8 351.2 366.0 348.0 367.5 345.8C369.0 343.7 370.8 341.5 372.5 340.0C374.2 338.5 376.6 337.9 378.3 336.7C380.1 335.5 381.9 334.1 383.3 332.5C384.8 330.9 386.2 328.7 387.5 326.7C388.8 324.7 390.5 322.5 391.7 320.0C392.9 317.5 393.7 313.8 395.0 310.8C396.3 307.9 398.4 304.7 400.0 301.7C401.6 298.6 403.4 294.6 405.0 291.7C406.6 288.7 408.4 285.7 410.0 283.3C411.6 280.9 413.4 278.9 415.0 276.7C416.6 274.4 418.4 271.8 420.0 269.2C421.6 266.5 423.4 262.9 425.0 260.0C426.6 257.1 428.4 253.2 430.0 250.8C431.6 248.4 433.4 246.7 435.0 245.0C436.6 243.3 438.4 241.6 440.0 240.0C441.6 238.4 443.5 236.6 445.0 235.0C446.5 233.4 447.8 232.0 449.2 230.0C450.5 228.0 451.9 224.1 453.3 222.5C454.8 220.9 456.7 221.2 458.3 220.0C459.9 218.8 461.7 216.6 463.3 215.0C464.9 213.4 466.7 211.9 468.3 210.0C469.9 208.1 471.7 205.5 473.3 203.3C474.9 201.2 476.7 199.2 478.3 196.7C479.9 194.1 481.7 190.3 483.3 187.5C484.9 184.7 486.7 181.7 488.3 179.2C489.9 176.6 491.7 173.9 493.3 171.7C494.9 169.4 496.7 167.7 498.3 165.0C499.9 162.3 501.7 157.9 503.3 155.0C504.9 152.1 506.9 148.9 508.3 146.7C509.8 144.4 510.6 143.1 512.5 140.8C514.4 138.6 518.1 134.6 520.0 132.5C521.9 130.4 522.8 129.1 524.2 127.5C525.5 125.9 526.9 124.1 528.3 122.5C529.8 120.9 531.7 119.0 533.3 117.5C534.9 116.0 536.7 114.5 538.3 113.3C539.9 112.1 541.7 110.9 543.3 110.0C544.9 109.1 546.7 108.2 548.3 107.5C549.9 106.8 551.5 106.2 553.3 105.5C555.2 104.8 557.9 104.0 560.0 103.3C562.1 102.7 564.4 101.9 566.2 101.5C568.1 101.1 569.9 101.0 571.7 100.8C573.4 100.6 575.3 100.5 577.1 100.5C578.8 100.4 580.8 100.4 582.5 100.2C584.2 100.1 586.2 99.8 587.9 99.7C589.7 99.6 591.6 99.5 593.3 99.4C595.1 99.2 597.0 99.0 598.8 98.8C600.5 98.7 602.4 98.7 604.2 98.6C605.9 98.5 607.8 98.3 609.6 98.3C611.3 98.2 613.3 98.3 615.0 98.3C616.7 98.3 618.7 98.3 620.4 98.3C622.2 98.3 624.1 98.3 625.8 98.3C627.6 98.3 629.5 98.2 631.2 98.1C633.0 98.0 634.9 97.8 636.7 97.8C638.4 97.7 640.3 97.9 642.1 98.0C643.8 98.0 645.8 98.0 647.5 98.1C649.2 98.1 651.2 98.3 652.9 98.3C654.7 98.3 656.6 98.3 658.3 98.3C660.1 98.3 662.0 98.3 663.8 98.3C665.5 98.3 667.4 98.3 669.2 98.3C670.9 98.3 672.8 98.2 674.6 98.3C676.3 98.3 678.3 98.4 680.0 98.6C681.7 98.8 683.7 99.2 685.4 99.4C687.2 99.6 689.1 99.6 690.8 99.7C692.6 99.8 694.5 99.7 696.2 99.9C698.0 100.1 699.9 100.7 701.7 101.0C703.4 101.3 705.3 101.8 707.1 102.1C708.8 102.3 710.8 102.5 712.5 102.6C714.2 102.8 716.2 102.8 717.9 103.0C719.7 103.1 721.6 103.3 723.3 103.4C725.1 103.5 727.0 103.6 728.8 103.7C730.5 103.8 732.4 103.9 734.2 104.0C735.9 104.2 737.8 104.5 739.6 104.8C741.3 105.1 743.3 105.5 745.0 105.9C746.7 106.3 748.7 106.7 750.4 107.2C752.2 107.6 754.1 108.1 755.8 108.6C757.6 109.1 759.5 109.6 761.2 110.2C763.0 110.8 764.9 111.6 766.7 112.4C768.4 113.2 770.3 114.2 772.1 115.1C773.8 115.9 775.8 116.8 777.5 117.8C779.2 118.8 781.2 120.4 782.9 121.6C784.7 122.8 786.8 124.3 788.3 125.4C789.9 126.5 791.3 127.6 792.7 128.6C794.1 129.7 795.8 130.8 797.0 131.9C798.2 133.0 799.2 134.5 800.2 135.7C801.3 136.8 802.8 138.2 803.5 138.9C804.2 139.6 803.5 138.9 804.6 140.0C805.6 141.1 808.1 144.0 810.0 145.8C811.9 147.7 814.5 149.8 816.7 151.7C818.8 153.5 821.2 155.8 823.3 157.5C825.5 159.2 827.9 161.2 830.0 162.5C832.1 163.8 834.5 164.1 836.7 165.8C838.8 167.6 841.2 170.8 843.3 173.3C845.5 175.9 847.9 179.3 850.0 181.7C852.1 184.1 854.5 186.5 856.7 188.3C858.8 190.2 861.2 191.7 863.3 193.3C865.5 194.9 868.7 197.3 870.0 198.3C871.3 199.4 870.7 199.1 871.7 200.0C872.6 200.9 874.2 202.6 875.8 204.2C877.4 205.8 879.9 208.1 881.7 210.0C883.4 211.9 885.1 213.8 886.7 215.8C888.3 217.8 890.1 220.5 891.7 222.5C893.3 224.5 895.1 226.5 896.7 228.3C898.3 230.2 899.8 232.4 901.7 234.2C903.5 235.9 906.3 237.7 908.3 239.2C910.3 240.6 912.4 241.9 914.2 243.3C915.9 244.8 917.6 246.5 919.2 248.3C920.8 250.2 922.7 252.9 924.2 255.0C925.6 257.1 927.0 259.4 928.3 261.7C929.7 263.9 931.2 267.0 932.5 269.2C933.8 271.3 935.2 273.3 936.7 275.0C938.1 276.7 940.2 278.3 941.7 280.0C943.1 281.7 944.6 284.5 945.8 285.8C947.0 287.2 948.2 287.8 949.2 288.3C950.1 288.9 950.5 288.2 951.7 289.2C952.9 290.1 955.1 292.4 956.7 294.2C958.3 295.9 960.2 298.1 961.7 300.0C963.1 301.9 964.5 303.7 965.8 305.8C967.2 308.0 968.5 311.1 970.0 313.3C971.5 315.6 973.4 317.9 975.0 320.0C976.6 322.1 978.3 324.8 980.0 326.7C981.7 328.5 984.0 330.2 985.8 331.7C987.7 333.1 989.8 334.5 991.7 335.8C993.5 337.2 995.6 338.7 997.5 340.0C999.4 341.3 1001.5 343.0 1003.3 344.2C1005.2 345.4 1007.3 346.4 1009.2 347.5C1011.0 348.6 1013.4 349.6 1015.0 350.8C1016.6 352.0 1018.0 353.4 1019.2 355.0C1020.4 356.6 1021.3 359.1 1022.5 360.8C1023.7 362.6 1025.2 364.5 1026.7 365.8C1028.1 367.2 1029.8 368.2 1031.7 369.2C1033.5 370.1 1036.3 370.9 1038.3 371.7C1040.3 372.5 1042.3 373.6 1044.2 374.2C1046.0 374.7 1048.3 374.6 1050.0 375.0C1051.7 375.4 1053.4 376.0 1055.0 376.7C1056.6 377.3 1058.4 378.1 1060.0 379.2C1061.6 380.2 1063.3 382.1 1065.0 383.3C1066.7 384.5 1069.1 385.5 1070.8 386.7C1072.6 387.9 1074.5 389.5 1075.8 390.8C1077.2 392.2 1078.0 394.7 1079.2 395.0C1080.4 395.3 1082.0 393.4 1083.3 392.5C1084.7 391.6 1086.0 389.9 1087.5 389.7C1089.0 389.4 1090.8 390.0 1092.5 390.8C1094.2 391.7 1096.6 394.2 1098.3 395.0C1100.1 395.8 1101.7 395.7 1103.3 395.8C1104.9 396.0 1106.9 395.0 1108.3 395.8C1109.8 396.6 1111.0 399.2 1112.5 400.8C1114.0 402.4 1116.0 404.6 1117.5 405.8C1119.0 407.0 1120.3 408.6 1121.7 408.3C1123.0 408.1 1124.5 405.5 1125.8 404.2C1127.2 402.8 1128.5 401.1 1130.0 400.0C1131.5 398.9 1133.4 397.6 1135.0 397.5C1136.6 397.4 1138.4 398.6 1140.0 399.2C1141.6 399.7 1143.4 400.2 1145.0 400.8C1146.6 401.5 1148.4 402.4 1150.0 403.3C1151.6 404.3 1153.4 405.3 1155.0 406.7C1156.6 408.0 1158.4 409.9 1160.0 411.7C1161.6 413.4 1163.6 415.8 1165.0 417.5C1166.4 419.2 1168.4 421.7 1169.0 422.5" fill="none" stroke="#0000ff" stroke-width="1.7" stroke-linejoin="round" stroke-linecap="round" stroke-opacity="0.65" stroke-dasharray="5.3 6.7"/>
<path d="M59.5 375.0 L62.0 353.3 L65.0 338.3 L68.3 333.7 L71.3 353.3 L74.3 373.3 L77.3 388.3 L80.3 401.2 L83.3 393.3 L86.3 388.0 L89.3 387.5 L92.5 382.8 L95.5 383.8 L98.5 384.5 L101.7 385.8 L104.7 390.8 L107.7 395.8 L110.7 387.5 L113.8 371.7 L116.8 355.8 L120.0 358.3 L123.0 368.3 L126.0 378.0 L129.0 379.7 L132.0 373.3 L135.2 384.2 L138.2 386.2 L141.2 380.8 L144.3 373.7 L147.3 373.0 L150.3 363.3 L153.3 345.0 L156.3 320.0 L159.7 292.5 L162.5 282.5 L165.5 290.8 L168.7 280.0 L171.7 273.8 L174.7 284.2 L177.7 311.7 L180.8 340.0 L183.8 337.5 L186.8 339.2 L190.0 328.3 L193.0 318.3 L196.0 315.0 L199.2 321.7 L202.2 330.0 L205.2 338.3 L208.3 344.2 L211.3 347.5 L214.7 355.0 L217.7 355.5 L220.7 350.8 L223.8 360.0 L226.8 358.3 L229.8 355.0 L233.0 343.3 L236.0 330.0 L239.0 320.0 L242.5 307.8 L245.5 306.7 L248.5 316.7 L251.7 320.8 L254.7 336.7 L257.7 335.3 L260.7 339.2 L263.3 350.0 L266.3 368.3 L269.3 382.5 L272.5 391.7 L275.5 391.7 L278.5 373.3 L281.7 365.8 L284.7 368.3 L287.7 364.2 L290.8 353.3 L293.8 344.2 L296.8 339.2 L300.0 341.7 L303.0 350.8 L306.0 351.7 L309.2 353.3 L312.2 355.8 L315.2 350.0 L318.3 346.7 L321.3 349.7 L324.3 343.3 L327.5 336.7 L330.5 330.0 L333.5 332.5 L336.7 337.2 L339.7 338.7 L342.7 340.8 L345.7 344.5 L348.8 346.2 L351.8 345.0 L354.8 340.8 L358.0 334.2 L361.0 325.8 L363.3 320.0 L365.0 305.8 L367.0 303.3 L370.0 300.8 L373.2 296.7 L376.2 295.5 L379.2 294.2 L382.2 298.3 L385.3 298.8 L388.3 294.2 L391.3 285.8 L394.3 278.3 L397.5 271.7 L400.5 265.0 L403.5 253.3 L406.7 241.7 L409.7 235.8 L412.7 235.5 L415.7 236.3 L418.7 235.0 L421.7 230.0 L425.0 216.7 L428.0 206.7 L431.2 205.0 L434.2 201.7 L437.2 199.2 L440.2 200.0 L443.3 199.2 L446.3 193.3 L449.3 183.3 L452.3 176.7 L455.3 170.0 L458.5 165.8 L461.5 166.7 L464.5 165.8 L467.7 166.2 L470.7 165.0 L473.7 165.8 L476.8 164.7 L479.8 162.5 L482.8 160.5 L486.0 159.7 L489.0 158.0 L492.0 156.7 L495.2 154.2 L498.2 151.7 L501.2 150.8 L504.2 150.8 L507.3 149.2 L510.3 146.7 L513.3 142.5 L515.0 140.0 L516.7 135.8 L520.0 135.0 L522.5 127.5 L525.0 121.7 L528.3 118.3 L531.7 115.8 L535.0 113.3 L538.3 110.8 L541.7 109.2 L545.0 106.7 L548.3 105.0 L551.7 103.3 L555.0 101.7 L558.3 100.0 L561.7 99.2 L563.0 99.4 L566.2 99.7 L569.0 101.0 L571.7 99.9 L574.9 98.8 L578.2 98.3 L581.4 98.1 L584.7 96.7 L587.4 95.4 L590.1 94.8 L593.3 95.4 L596.6 95.8 L599.3 94.5 L602.0 93.4 L604.2 94.5 L606.3 96.1 L608.5 97.8 L610.7 96.1 L612.8 96.7 L614.5 97.5 L616.6 95.6 L618.8 94.2 L621.0 94.5 L623.7 96.1 L625.8 96.7 L628.0 97.8 L630.2 98.3 L632.3 97.2 L634.5 95.6 L636.7 94.8 L638.8 95.6 L641.5 96.5 L644.2 96.7 L647.5 96.3 L650.8 96.1 L654.0 95.6 L657.2 96.7 L659.4 97.2 L661.6 96.1 L663.8 96.1 L666.5 97.8 L669.2 99.4 L671.9 100.7 L674.6 100.7 L676.8 98.8 L678.4 96.7 L680.0 96.1 L683.2 97.2 L686.5 97.8 L690.3 98.6 L694.1 100.5 L697.3 101.9 L700.0 103.0 L702.8 102.6 L705.7 99.7 L708.7 103.0 L712.0 102.1 L714.7 100.8 L717.9 102.6 L721.2 101.9 L724.4 102.6 L727.1 103.4 L729.8 101.5 L733.1 103.0 L736.3 102.1 L739.4 100.7 L742.3 102.1 L745.5 103.7 L748.2 104.8 L751.0 103.7 L754.2 104.0 L757.5 107.5 L760.7 107.0 L764.0 108.6 L767.2 110.8 L770.5 112.9 L773.2 115.1 L775.9 118.9 L778.6 119.6 L781.8 120.0 L785.1 121.0 L788.3 121.8 L791.6 118.9 L794.3 116.4 L797.5 119.6 L800.2 118.3 L803.0 120.0 L806.2 123.8 L810.0 124.1 L813.0 128.3 L815.8 129.2 L819.2 132.5 L822.0 131.3 L825.0 134.2 L828.0 137.5 L830.8 144.2 L834.2 147.5 L837.5 149.2 L840.0 149.7 L843.3 147.0 L846.7 147.5 L850.0 147.5 L853.3 147.0 L855.8 148.3 L859.2 152.5 L861.7 156.7 L864.7 163.0 L867.5 164.2 L870.8 165.8 L874.2 166.7 L877.5 169.2 L880.8 172.2 L884.2 175.0 L886.7 177.5 L889.2 181.7 L892.5 186.7 L895.0 191.7 L898.0 185.0 L900.8 178.3 L904.2 175.0 L907.5 178.3 L910.8 178.3 L913.7 174.2 L916.7 170.0 L920.0 165.8 L922.5 166.7 L925.0 173.3 L927.5 181.7 L930.0 188.3 L931.7 192.5 L934.2 181.7 L937.5 177.0 L940.8 179.2 L944.2 181.7 L946.7 186.7 L950.0 197.5 L953.3 199.2 L958.3 199.2 L960.8 203.3 L964.2 207.5 L966.7 210.0 L968.3 218.3 L970.8 230.0 L974.2 232.5 L976.7 235.8 L979.2 241.7 L981.7 246.7 L984.2 250.0 L986.7 259.2 L989.2 265.8 L991.7 272.5 L993.3 275.8 L995.8 275.8 L998.3 272.0 L1000.8 276.7 L1003.3 285.0 L1005.0 292.5 L1008.3 291.3 L1011.3 290.8 L1014.2 295.0 L1016.7 305.0 L1020.0 311.7 L1023.0 317.5 L1025.8 310.0 L1029.2 302.0 L1031.7 310.0 L1034.2 313.7 L1036.7 313.3 L1039.2 309.2 L1042.0 304.2 L1044.7 291.7 L1047.5 280.3 L1050.8 283.3 L1054.2 291.7 L1057.5 300.0 L1060.0 305.8 L1062.8 310.0 L1065.8 320.0 L1068.8 330.8 L1072.0 329.2" fill="none" stroke="#000" stroke-width="2.4" stroke-linejoin="round" stroke-linecap="round"/>
</g>
<g stroke="#bdbdbd" stroke-opacity="0.75" stroke-width="1">
<line x1="153.35" y1="59" x2="153.35" y2="526"/>
<line x1="239.35" y1="59" x2="239.35" y2="526"/>
<line x1="333.35" y1="59" x2="333.35" y2="526"/>
<line x1="425.35" y1="59" x2="425.35" y2="526"/>
<line x1="519.35" y1="59" x2="519.35" y2="526"/>
<line x1="611.35" y1="59" x2="611.35" y2="526"/>
<line x1="705.35" y1="59" x2="705.35" y2="526"/>
<line x1="800.35" y1="59" x2="800.35" y2="526"/>
<line x1="892.35" y1="59" x2="892.35" y2="526"/>
<line x1="986.35" y1="59" x2="986.35" y2="526"/>
<line x1="1078.35" y1="59" x2="1078.35" y2="526"/>
<line x1="59" y1="109.5" x2="1169" y2="109.5"/>
<line x1="59" y1="165.5" x2="1169" y2="165.5"/>
<line x1="59" y1="220.5" x2="1169" y2="220.5"/>
<line x1="59" y1="276.5" x2="1169" y2="276.5"/>
<line x1="59" y1="331.5" x2="1169" y2="331.5"/>
<line x1="59" y1="387.5" x2="1169" y2="387.5"/>
<line x1="59" y1="442.5" x2="1169" y2="442.5"/>
<line x1="59" y1="498.5" x2="1169" y2="498.5"/>
</g>
<line x1="58.95" y1="58" x2="58.95" y2="527" stroke="#000" stroke-opacity="0.95" stroke-width="1"/>
<line x1="58.5" y1="59" x2="1170" y2="59" stroke="#000" stroke-opacity="0.88" stroke-width="1"/>
<line x1="1169.5" y1="59" x2="1169.5" y2="527" stroke="#4a4a4a" stroke-width="1"/>
<line x1="58.5" y1="526.5" x2="1170" y2="526.5" stroke="#000" stroke-width="1"/>
<g stroke="#333" stroke-width="1">
<line x1="51.6" y1="109.5" x2="59" y2="109.5"/>
<line x1="51.6" y1="165.5" x2="59" y2="165.5"/>
<line x1="51.6" y1="220.5" x2="59" y2="220.5"/>
<line x1="51.6" y1="276.5" x2="59" y2="276.5"/>
<line x1="51.6" y1="331.5" x2="59" y2="331.5"/>
<line x1="51.6" y1="387.5" x2="59" y2="387.5"/>
<line x1="51.6" y1="442.5" x2="59" y2="442.5"/>
<line x1="51.6" y1="498.5" x2="59" y2="498.5"/>
</g>
<path d="M59.00 526.5V534M62.05 526.5V534M65.10 526.5V534M68.15 526.5V534M71.20 526.5V534M74.25 526.5V534M77.30 526.5V534M80.36 526.5V534M83.41 526.5V534M86.46 526.5V534M89.51 526.5V534M92.56 526.5V534M95.61 526.5V534M98.66 526.5V534M101.71 526.5V534M104.76 526.5V534M107.81 526.5V534M110.86 526.5V534M113.91 526.5V534M116.97 526.5V534M120.02 526.5V534M123.07 526.5V534M126.12 526.5V534M129.17 526.5V534M132.22 526.5V534M135.27 526.5V534M138.32 526.5V534M141.37 526.5V534M144.42 526.5V534M147.47 526.5V534M150.52 526.5V534M153.58 526.5V534M156.63 526.5V534M159.68 526.5V534M162.73 526.5V534M165.78 526.5V534M168.83 526.5V534M171.88 526.5V534M174.93 526.5V534M177.98 526.5V534M181.03 526.5V534M184.08 526.5V534M187.13 526.5V534M190.19 526.5V534M193.24 526.5V534M196.29 526.5V534M199.34 526.5V534M202.39 526.5V534M205.44 526.5V534M208.49 526.5V534M211.54 526.5V534M214.59 526.5V534M217.64 526.5V534M220.69 526.5V534M223.74 526.5V534M226.80 526.5V534M229.85 526.5V534M232.90 526.5V534M235.95 526.5V534M239.00 526.5V534M242.05 526.5V534M245.10 526.5V534M248.15 526.5V534M251.20 526.5V534M254.25 526.5V534M257.30 526.5V534M260.35 526.5V534M263.41 526.5V534M266.46 526.5V534M269.51 526.5V534M272.56 526.5V534M275.61 526.5V534M278.66 526.5V534M281.71 526.5V534M284.76 526.5V534M287.81 526.5V534M290.86 526.5V534M293.91 526.5V534M296.96 526.5V534M300.02 526.5V534M303.07 526.5V534M306.12 526.5V534M309.17 526.5V534M312.22 526.5V534M315.27 526.5V534M318.32 526.5V534M321.37 526.5V534M324.42 526.5V534M327.47 526.5V534M330.52 526.5V534M333.57 526.5V534M336.62 526.5V534M339.68 526.5V534M342.73 526.5V534M345.78 526.5V534M348.83 526.5V534M351.88 526.5V534M354.93 526.5V534M357.98 526.5V534M361.03 526.5V534M364.08 526.5V534M367.13 526.5V534M370.18 526.5V534M373.23 526.5V534M376.29 526.5V534M379.34 526.5V534M382.39 526.5V534M385.44 526.5V534M388.49 526.5V534M391.54 526.5V534M394.59 526.5V534M397.64 526.5V534M400.69 526.5V534M403.74 526.5V534M406.79 526.5V534M409.84 526.5V534M412.90 526.5V534M415.95 526.5V534M419.00 526.5V534M422.05 526.5V534M425.10 526.5V534M428.15 526.5V534M431.20 526.5V534M434.25 526.5V534M437.30 526.5V534M440.35 526.5V534M443.40 526.5V534M446.45 526.5V534M449.51 526.5V534M452.56 526.5V534M455.61 526.5V534M458.66 526.5V534M461.71 526.5V534M464.76 526.5V534M467.81 526.5V534M470.86 526.5V534M473.91 526.5V534M476.96 526.5V534M480.01 526.5V534M483.06 526.5V534M486.12 526.5V534M489.17 526.5V534M492.22 526.5V534M495.27 526.5V534M498.32 526.5V534M501.37 526.5V534M504.42 526.5V534M507.47 526.5V534M510.52 526.5V534M513.57 526.5V534M516.62 526.5V534M519.67 526.5V534M522.73 526.5V534M525.78 526.5V534M528.83 526.5V534M531.88 526.5V534M534.93 526.5V534M537.98 526.5V534M541.03 526.5V534M544.08 526.5V534M547.13 526.5V534M550.18 526.5V534M553.23 526.5V534M556.28 526.5V534M559.34 526.5V534M562.39 526.5V534M565.44 526.5V534M568.49 526.5V534M571.54 526.5V534M574.59 526.5V534M577.64 526.5V534M580.69 526.5V534M583.74 526.5V534M586.79 526.5V534M589.84 526.5V534M592.89 526.5V534M595.95 526.5V534M599.00 526.5V534M602.05 526.5V534M605.10 526.5V534M608.15 526.5V534M611.20 526.5V534M614.25 526.5V534M617.30 526.5V534M620.35 526.5V534M623.40 526.5V534M626.45 526.5V534M629.50 526.5V534M632.55 526.5V534M635.61 526.5V534M638.66 526.5V534M641.71 526.5V534M644.76 526.5V534M647.81 526.5V534M650.86 526.5V534M653.91 526.5V534M656.96 526.5V534M660.01 526.5V534M663.06 526.5V534M666.11 526.5V534M669.16 526.5V534M672.22 526.5V534M675.27 526.5V534M678.32 526.5V534M681.37 526.5V534M684.42 526.5V534M687.47 526.5V534M690.52 526.5V534M693.57 526.5V534M696.62 526.5V534M699.67 526.5V534M702.72 526.5V534M705.77 526.5V534M708.83 526.5V534M711.88 526.5V534M714.93 526.5V534M717.98 526.5V534M721.03 526.5V534M724.08 526.5V534M727.13 526.5V534M730.18 526.5V534M733.23 526.5V534M736.28 526.5V534M739.33 526.5V534M742.38 526.5V534M745.44 526.5V534M748.49 526.5V534M751.54 526.5V534M754.59 526.5V534M757.64 526.5V534M760.69 526.5V534M763.74 526.5V534M766.79 526.5V534M769.84 526.5V534M772.89 526.5V534M775.94 526.5V534M778.99 526.5V534M782.05 526.5V534M785.10 526.5V534M788.15 526.5V534M791.20 526.5V534M794.25 526.5V534M797.30 526.5V534M800.35 526.5V534M803.40 526.5V534M806.45 526.5V534M809.50 526.5V534M812.55 526.5V534M815.60 526.5V534M818.66 526.5V534M821.71 526.5V534M824.76 526.5V534M827.81 526.5V534M830.86 526.5V534M833.91 526.5V534M836.96 526.5V534M840.01 526.5V534M843.06 526.5V534M846.11 526.5V534M849.16 526.5V534M852.21 526.5V534M855.27 526.5V534M858.32 526.5V534M861.37 526.5V534M864.42 526.5V534M867.47 526.5V534M870.52 526.5V534M873.57 526.5V534M876.62 526.5V534M879.67 526.5V534M882.72 526.5V534M885.77 526.5V534M888.82 526.5V534M891.88 526.5V534M894.93 526.5V534M897.98 526.5V534M901.03 526.5V534M904.08 526.5V534M907.13 526.5V534M910.18 526.5V534M913.23 526.5V534M916.28 526.5V534M919.33 526.5V534M922.38 526.5V534M925.43 526.5V534M928.48 526.5V534M931.54 526.5V534M934.59 526.5V534M937.64 526.5V534M940.69 526.5V534M943.74 526.5V534M946.79 526.5V534M949.84 526.5V534M952.89 526.5V534M955.94 526.5V534M958.99 526.5V534M962.04 526.5V534M965.09 526.5V534M968.15 526.5V534M971.20 526.5V534M974.25 526.5V534M977.30 526.5V534M980.35 526.5V534M983.40 526.5V534M986.45 526.5V534M989.50 526.5V534M992.55 526.5V534M995.60 526.5V534M998.65 526.5V534M1001.70 526.5V534M1004.76 526.5V534M1007.81 526.5V534M1010.86 526.5V534M1013.91 526.5V534M1016.96 526.5V534M1020.01 526.5V534M1023.06 526.5V534M1026.11 526.5V534M1029.16 526.5V534M1032.21 526.5V534M1035.26 526.5V534M1038.31 526.5V534M1041.37 526.5V534M1044.42 526.5V534M1047.47 526.5V534M1050.52 526.5V534M1053.57 526.5V534M1056.62 526.5V534M1059.67 526.5V534M1062.72 526.5V534M1065.77 526.5V534M1068.82 526.5V534M1071.87 526.5V534M1074.92 526.5V534M1077.98 526.5V534M1081.03 526.5V534M1084.08 526.5V534M1087.13 526.5V534M1090.18 526.5V534M1093.23 526.5V534M1096.28 526.5V534M1099.33 526.5V534M1102.38 526.5V534M1105.43 526.5V534M1108.48 526.5V534M1111.53 526.5V534M1114.59 526.5V534M1117.64 526.5V534M1120.69 526.5V534M1123.74 526.5V534M1126.79 526.5V534M1129.84 526.5V534M1132.89 526.5V534M1135.94 526.5V534M1138.99 526.5V534M1142.04 526.5V534M1145.09 526.5V534M1148.14 526.5V534M1151.20 526.5V534M1154.25 526.5V534M1157.30 526.5V534M1160.35 526.5V534M1163.40 526.5V534M1166.45 526.5V534M1169.50 526.5V534" stroke="#000" stroke-width="1" fill="none" stroke-opacity="0.85"/>
<g class="sans" font-size="9" fill="#222" text-anchor="middle">
<text transform="translate(41.5 109.5) rotate(-90)">0</text>
<text transform="translate(41.5 165.5) rotate(-90)">-5</text>
<text transform="translate(41.5 220.5) rotate(-90)">-10</text>
<text transform="translate(41.5 276.5) rotate(-90)">-15</text>
<text transform="translate(41.5 331.5) rotate(-90)">-20</text>
<text transform="translate(41.5 387.5) rotate(-90)">-25</text>
<text transform="translate(41.5 442.5) rotate(-90)">-30</text>
<text transform="translate(41.5 498.5) rotate(-90)">-35</text>
</g>
<text class="sans" font-size="11.9" fill="#111" text-anchor="middle" transform="translate(13.4 292.8) rotate(-90)">Temperatura</text>
<text class="sans" font-size="11.9" fill="#111" text-anchor="middle" transform="translate(614.3 581.4) rotate(0.05)">Data</text>
<g class="sans" font-size="9" fill="#222" text-rendering="geometricPrecision">
<text transform="translate(59.0 552.5) rotate(0.05)" x="-11.0 -7.0 -5.0 -1.0 1.0 6.0">sty 01</text>
<text transform="translate(89.5 552.5) rotate(0.05)" x="-11.0 -7.0 -5.0 -1.0 1.0 6.0">sty 11</text>
<text transform="translate(120.0 552.5) rotate(0.05)" x="-11.0 -7.0 -5.0 -1.0 1.0 6.0">sty 21</text>
<text transform="translate(150.5 552.5) rotate(0.05)" x="-11.0 -7.0 -5.0 -1.0 1.0 6.0">sty 31</text>
<text transform="translate(181.0 552.5) rotate(0.05)" x="-10.5 -8.5 -3.5 -1.5 0.5 5.5">lut 10</text>
<text transform="translate(211.5 552.5) rotate(0.05)" x="-10.5 -8.5 -3.5 -1.5 0.5 5.5">lut 20</text>
<text transform="translate(245.1 552.5) rotate(0.05)" x="-13.5 -6.5 -1.5 1.5 3.5 8.5">mar 03</text>
<text transform="translate(281.7 552.5) rotate(0.05)" x="-13.5 -6.5 -1.5 1.5 3.5 8.5">mar 15</text>
<text transform="translate(318.3 552.5) rotate(0.05)" x="-13.5 -6.5 -1.5 1.5 3.5 8.5">mar 27</text>
<text transform="translate(351.9 552.5) rotate(0.05)" x="-12.0 -8.0 -2.0 0.0 2.0 7.0">kwi 07</text>
<text transform="translate(385.4 552.5) rotate(0.05)" x="-12.0 -8.0 -2.0 0.0 2.0 7.0">kwi 18</text>
<text transform="translate(419.0 552.5) rotate(0.05)" x="-12.0 -8.0 -2.0 0.0 2.0 7.0">kwi 29</text>
<text transform="translate(452.6 552.5) rotate(0.05)" x="-13.0 -6.0 -1.0 1.0 3.0 8.0">maj 10</text>
<text transform="translate(486.1 552.5) rotate(0.05)" x="-13.0 -6.0 -1.0 1.0 3.0 8.0">maj 21</text>
<text transform="translate(519.7 552.5) rotate(0.05)" x="-12.5 -8.5 -4.5 0.5 2.5 7.5">cze 01</text>
<text transform="translate(553.2 552.5) rotate(0.05)" x="-12.5 -8.5 -4.5 0.5 2.5 7.5">cze 12</text>
<text transform="translate(586.8 552.5) rotate(0.05)" x="-12.5 -8.5 -4.5 0.5 2.5 7.5">cze 23</text>
<text transform="translate(617.3 552.5) rotate(0.05)" x="-10.5 -8.5 -6.5 -1.5 0.5 5.5">lip 03</text>
<text transform="translate(647.8 552.5) rotate(0.05)" x="-10.5 -8.5 -6.5 -1.5 0.5 5.5">lip 13</text>
<text transform="translate(678.3 552.5) rotate(0.05)" x="-10.5 -8.5 -6.5 -1.5 0.5 5.5">lip 23</text>
<text transform="translate(708.8 552.5) rotate(0.05)" x="-11.5 -7.5 -5.5 -0.5 1.5 6.5">sie 02</text>
<text transform="translate(739.3 552.5) rotate(0.05)" x="-11.5 -7.5 -5.5 -0.5 1.5 6.5">sie 12</text>
<text transform="translate(769.8 552.5) rotate(0.05)" x="-11.5 -7.5 -5.5 -0.5 1.5 6.5">sie 22</text>
<text transform="translate(803.4 552.5) rotate(0.05)" x="-12.5 -6.5 -3.5 0.5 2.5 7.5">wrz 02</text>
<text transform="translate(837.0 552.5) rotate(0.05)" x="-12.5 -6.5 -3.5 0.5 2.5 7.5">wrz 13</text>
<text transform="translate(870.5 552.5) rotate(0.05)" x="-12.5 -6.5 -3.5 0.5 2.5 7.5">wrz 24</text>
<text transform="translate(904.1 552.5) rotate(0.05)" x="-13.0 -8.0 -3.0 1.0 3.0 8.0">paź 05</text>
<text transform="translate(937.6 552.5) rotate(0.05)" x="-13.0 -8.0 -3.0 1.0 3.0 8.0">paź 16</text>
<text transform="translate(971.2 552.5) rotate(0.05)" x="-13.0 -8.0 -3.0 1.0 3.0 8.0">paź 27</text>
<text transform="translate(1001.7 552.5) rotate(0.05)" x="-10.0 -8.0 -6.0 -2.0 0.0 5.0">lis 06</text>
<text transform="translate(1029.2 552.5) rotate(0.05)" x="-10.0 -8.0 -6.0 -2.0 0.0 5.0">lis 15</text>
<text transform="translate(1056.6 552.5) rotate(0.05)" x="-10.0 -8.0 -6.0 -2.0 0.0 5.0">lis 24</text>
<text transform="translate(1087.1 552.5) rotate(0.05)" x="-12.5 -7.5 -4.5 0.5 2.5 7.5">gru 04</text>
<text transform="translate(1120.7 552.5) rotate(0.05)" x="-12.5 -7.5 -4.5 0.5 2.5 7.5">gru 15</text>
<text transform="translate(1154.2 552.5) rotate(0.05)" x="-12.5 -7.5 -4.5 0.5 2.5 7.5">gru 26</text>
</g>
<line x1="97" y1="79.5" x2="151.5" y2="79.5" stroke="#000" stroke-width="2.5" stroke-linecap="round"/>
<line x1="97" y1="93.9" x2="151.5" y2="93.9" stroke="#8080ff" stroke-width="1.1"/>
<line x1="97" y1="108.3" x2="151.5" y2="108.3" stroke="#2e7d2e" stroke-width="1.1"/>
<line x1="97" y1="122.7" x2="151.5" y2="122.7" stroke="#ffdc5a" stroke-width="1.1"/>
<line x1="97" y1="137.1" x2="151.5" y2="137.1" stroke="#ff5050" stroke-width="1.1"/>
<line x1="97.5" y1="151.6" x2="151.5" y2="151.6" stroke="#ff0000" stroke-width="1.7" stroke-dasharray="5.3 6.7" stroke-linecap="round"/>
<line x1="97.5" y1="166.0" x2="151.5" y2="166.0" stroke="#2020ff" stroke-width="1.7" stroke-dasharray="5.3 6.7" stroke-linecap="round"/>
<line x1="97.5" y1="180.4" x2="151" y2="180.4" stroke="#e5e5e5" stroke-width="5.5" stroke-linecap="round"/>
<g class="sans" font-size="12.2" fill="#000">
<text x="162" y="83.8">2022</text>
<text x="162" y="98.2">1981-1990</text>
<text x="162" y="112.6">1991-2000</text>
<text x="162" y="127.0">2001-2010</text>
<text x="162" y="141.4">2011-2020</text>
<text x="162" y="155.9">1991-2020</text>
<text x="162" y="170.3">1951-1980</text>
<text x="162" y="184.7">max-min 1950-2021</text>
</g>
</svg></body></html>
